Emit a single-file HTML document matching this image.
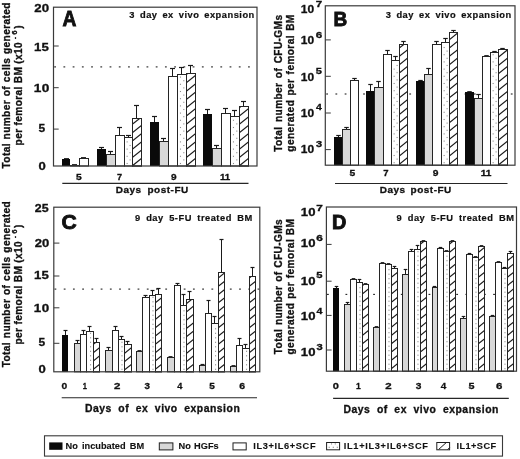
<!DOCTYPE html>
<html><head><meta charset="utf-8"><style>
html,body{margin:0;padding:0;background:#fff;}
svg{display:block;}
text{font-family:"Liberation Sans", sans-serif;fill:#111;stroke:#111;stroke-width:0.3px;}
svg{will-change:transform;filter:blur(0.25px);}
</style></head><body>
<svg width="520" height="459" viewBox="0 0 520 459">
<rect width="520" height="459" fill="#fff"/>
<g fill="#222"><rect x="54.2" y="66.35" width="1.8" height="1.1"/><rect x="63.43" y="66.35" width="1.8" height="1.1"/><rect x="72.66" y="66.35" width="1.8" height="1.1"/><rect x="81.89" y="66.35" width="1.8" height="1.1"/><rect x="91.12" y="66.35" width="1.8" height="1.1"/><rect x="100.35" y="66.35" width="1.8" height="1.1"/><rect x="109.58" y="66.35" width="1.8" height="1.1"/><rect x="118.81" y="66.35" width="1.8" height="1.1"/><rect x="128.04" y="66.35" width="1.8" height="1.1"/><rect x="137.27" y="66.35" width="1.8" height="1.1"/><rect x="146.5" y="66.35" width="1.8" height="1.1"/><rect x="155.73" y="66.35" width="1.8" height="1.1"/><rect x="164.96" y="66.35" width="1.8" height="1.1"/><rect x="174.19" y="66.35" width="1.8" height="1.1"/><rect x="183.42" y="66.35" width="1.8" height="1.1"/><rect x="192.65" y="66.35" width="1.8" height="1.1"/><rect x="201.88" y="66.35" width="1.8" height="1.1"/><rect x="211.11" y="66.35" width="1.8" height="1.1"/><rect x="220.34" y="66.35" width="1.8" height="1.1"/><rect x="229.57" y="66.35" width="1.8" height="1.1"/><rect x="238.8" y="66.35" width="1.8" height="1.1"/><rect x="248.03" y="66.35" width="1.8" height="1.1"/></g>
<line x1="64" y1="158.7" x2="69" y2="158.7" stroke="#1a1a1a" stroke-width="1.2"/>
<rect x="62" y="159" width="8" height="7" fill="#0a0a0a"/>
<line x1="72" y1="164.7" x2="77" y2="164.7" stroke="#1a1a1a" stroke-width="1.2"/>
<rect x="70.5" y="165.5" width="9" height="0.5" fill="#d8d8d8" stroke="#242424" stroke-width="1"/>
<line x1="81" y1="157.7" x2="86" y2="157.7" stroke="#1a1a1a" stroke-width="1.2"/>
<rect x="79.5" y="158.5" width="9" height="7.5" fill="#fff" stroke="#242424" stroke-width="1"/>
<line x1="101.5" y1="149" x2="101.5" y2="147.5" stroke="#1a1a1a" stroke-width="1"/>
<line x1="99" y1="147.5" x2="104" y2="147.5" stroke="#1a1a1a" stroke-width="1.2"/>
<rect x="97" y="149" width="9" height="17" fill="#0a0a0a"/>
<line x1="110.5" y1="154" x2="110.5" y2="151.5" stroke="#1a1a1a" stroke-width="1"/>
<line x1="108" y1="151.5" x2="113" y2="151.5" stroke="#1a1a1a" stroke-width="1.2"/>
<rect x="106.5" y="154.5" width="9" height="11.5" fill="#d8d8d8" stroke="#242424" stroke-width="1"/>
<line x1="119.5" y1="135" x2="119.5" y2="127.5" stroke="#1a1a1a" stroke-width="1"/>
<line x1="117" y1="127.5" x2="122" y2="127.5" stroke="#1a1a1a" stroke-width="1.2"/>
<rect x="115.5" y="135.5" width="9" height="30.5" fill="#fff" stroke="#242424" stroke-width="1"/>
<line x1="128.5" y1="137" x2="128.5" y2="135.5" stroke="#1a1a1a" stroke-width="1"/>
<line x1="126" y1="135.5" x2="131" y2="135.5" stroke="#1a1a1a" stroke-width="1.2"/>
<rect x="124.5" y="137.5" width="8" height="28.5" fill="#fff" stroke="#242424" stroke-width="1"/>
<g fill="#8c8c8c"><rect x="126.59" y="162.95" width="1.1" height="1.1"/><rect x="129.55" y="159.35" width="1.1" height="1.1"/><rect x="126.59" y="155.75" width="1.1" height="1.1"/><rect x="129.55" y="152.15" width="1.1" height="1.1"/><rect x="126.59" y="148.55" width="1.1" height="1.1"/><rect x="129.55" y="144.95" width="1.1" height="1.1"/><rect x="126.59" y="141.35" width="1.1" height="1.1"/></g>
<line x1="136.5" y1="118" x2="136.5" y2="105.5" stroke="#1a1a1a" stroke-width="1"/>
<line x1="134" y1="105.5" x2="139" y2="105.5" stroke="#1a1a1a" stroke-width="1.2"/>
<rect x="132.5" y="118.5" width="9" height="47.5" fill="#fff" stroke="#242424" stroke-width="1"/>
<clipPath id="c23"><rect x="132.5" y="118.5" width="9" height="47.5"/></clipPath>
<g clip-path="url(#c23)" stroke="#1a1a1a" stroke-width="1.2"><line x1="131.5" y1="174.8" x2="142.5" y2="166"/><line x1="131.5" y1="166.5" x2="142.5" y2="157.7"/><line x1="131.5" y1="158.2" x2="142.5" y2="149.4"/><line x1="131.5" y1="149.9" x2="142.5" y2="141.1"/><line x1="131.5" y1="141.6" x2="142.5" y2="132.8"/><line x1="131.5" y1="133.3" x2="142.5" y2="124.5"/><line x1="131.5" y1="125" x2="142.5" y2="116.2"/></g>
<rect x="132.5" y="118.5" width="9" height="47.5" fill="none" stroke="#242424" stroke-width="1"/>
<line x1="154.5" y1="122" x2="154.5" y2="116.5" stroke="#1a1a1a" stroke-width="1"/>
<line x1="152" y1="116.5" x2="157" y2="116.5" stroke="#1a1a1a" stroke-width="1.2"/>
<rect x="150" y="122" width="9" height="44" fill="#0a0a0a"/>
<line x1="163.5" y1="141" x2="163.5" y2="138.5" stroke="#1a1a1a" stroke-width="1"/>
<line x1="161" y1="138.5" x2="166" y2="138.5" stroke="#1a1a1a" stroke-width="1.2"/>
<rect x="159.5" y="141.5" width="9" height="24.5" fill="#d8d8d8" stroke="#242424" stroke-width="1"/>
<line x1="172.5" y1="76" x2="172.5" y2="68.5" stroke="#1a1a1a" stroke-width="1"/>
<line x1="170" y1="68.5" x2="175" y2="68.5" stroke="#1a1a1a" stroke-width="1.2"/>
<rect x="168.5" y="76.5" width="9" height="89.5" fill="#fff" stroke="#242424" stroke-width="1"/>
<line x1="181.5" y1="74" x2="181.5" y2="67.5" stroke="#1a1a1a" stroke-width="1"/>
<line x1="179" y1="67.5" x2="184" y2="67.5" stroke="#1a1a1a" stroke-width="1.2"/>
<rect x="177.5" y="74.5" width="9" height="91.5" fill="#fff" stroke="#242424" stroke-width="1"/>
<g fill="#8c8c8c"><rect x="179.92" y="162.95" width="1.1" height="1.1"/><rect x="183.25" y="159.35" width="1.1" height="1.1"/><rect x="179.92" y="155.75" width="1.1" height="1.1"/><rect x="183.25" y="152.15" width="1.1" height="1.1"/><rect x="179.92" y="148.55" width="1.1" height="1.1"/><rect x="183.25" y="144.95" width="1.1" height="1.1"/><rect x="179.92" y="141.35" width="1.1" height="1.1"/><rect x="183.25" y="137.75" width="1.1" height="1.1"/><rect x="179.92" y="134.15" width="1.1" height="1.1"/><rect x="183.25" y="130.55" width="1.1" height="1.1"/><rect x="179.92" y="126.95" width="1.1" height="1.1"/><rect x="183.25" y="123.35" width="1.1" height="1.1"/><rect x="179.92" y="119.75" width="1.1" height="1.1"/><rect x="183.25" y="116.15" width="1.1" height="1.1"/><rect x="179.92" y="112.55" width="1.1" height="1.1"/><rect x="183.25" y="108.95" width="1.1" height="1.1"/><rect x="179.92" y="105.35" width="1.1" height="1.1"/><rect x="183.25" y="101.75" width="1.1" height="1.1"/><rect x="179.92" y="98.15" width="1.1" height="1.1"/><rect x="183.25" y="94.55" width="1.1" height="1.1"/><rect x="179.92" y="90.95" width="1.1" height="1.1"/><rect x="183.25" y="87.35" width="1.1" height="1.1"/><rect x="179.92" y="83.75" width="1.1" height="1.1"/><rect x="183.25" y="80.15" width="1.1" height="1.1"/><rect x="179.92" y="76.55" width="1.1" height="1.1"/></g>
<line x1="190.5" y1="73" x2="190.5" y2="65.5" stroke="#1a1a1a" stroke-width="1"/>
<line x1="188" y1="65.5" x2="193" y2="65.5" stroke="#1a1a1a" stroke-width="1.2"/>
<rect x="186.5" y="73.5" width="9" height="92.5" fill="#fff" stroke="#242424" stroke-width="1"/>
<clipPath id="c42"><rect x="186.5" y="73.5" width="9" height="92.5"/></clipPath>
<g clip-path="url(#c42)" stroke="#1a1a1a" stroke-width="1.2"><line x1="185.5" y1="174.8" x2="196.5" y2="166"/><line x1="185.5" y1="166.5" x2="196.5" y2="157.7"/><line x1="185.5" y1="158.2" x2="196.5" y2="149.4"/><line x1="185.5" y1="149.9" x2="196.5" y2="141.1"/><line x1="185.5" y1="141.6" x2="196.5" y2="132.8"/><line x1="185.5" y1="133.3" x2="196.5" y2="124.5"/><line x1="185.5" y1="125" x2="196.5" y2="116.2"/><line x1="185.5" y1="116.7" x2="196.5" y2="107.9"/><line x1="185.5" y1="108.4" x2="196.5" y2="99.6"/><line x1="185.5" y1="100.1" x2="196.5" y2="91.3"/><line x1="185.5" y1="91.8" x2="196.5" y2="83"/><line x1="185.5" y1="83.5" x2="196.5" y2="74.7"/><line x1="185.5" y1="75.2" x2="196.5" y2="66.4"/></g>
<rect x="186.5" y="73.5" width="9" height="92.5" fill="none" stroke="#242424" stroke-width="1"/>
<line x1="207.5" y1="114" x2="207.5" y2="109.5" stroke="#1a1a1a" stroke-width="1"/>
<line x1="205" y1="109.5" x2="210" y2="109.5" stroke="#1a1a1a" stroke-width="1.2"/>
<rect x="203" y="114" width="9" height="52" fill="#0a0a0a"/>
<line x1="216.5" y1="148" x2="216.5" y2="145.5" stroke="#1a1a1a" stroke-width="1"/>
<line x1="214" y1="145.5" x2="219" y2="145.5" stroke="#1a1a1a" stroke-width="1.2"/>
<rect x="212.5" y="148.5" width="9" height="17.5" fill="#d8d8d8" stroke="#242424" stroke-width="1"/>
<line x1="225.5" y1="113" x2="225.5" y2="108.5" stroke="#1a1a1a" stroke-width="1"/>
<line x1="223" y1="108.5" x2="228" y2="108.5" stroke="#1a1a1a" stroke-width="1.2"/>
<rect x="221.5" y="113.5" width="9" height="52.5" fill="#fff" stroke="#242424" stroke-width="1"/>
<line x1="234.5" y1="116" x2="234.5" y2="110.5" stroke="#1a1a1a" stroke-width="1"/>
<line x1="232" y1="110.5" x2="237" y2="110.5" stroke="#1a1a1a" stroke-width="1.2"/>
<rect x="230.5" y="116.5" width="9" height="49.5" fill="#fff" stroke="#242424" stroke-width="1"/>
<g fill="#8c8c8c"><rect x="232.92" y="162.95" width="1.1" height="1.1"/><rect x="236.25" y="159.35" width="1.1" height="1.1"/><rect x="232.92" y="155.75" width="1.1" height="1.1"/><rect x="236.25" y="152.15" width="1.1" height="1.1"/><rect x="232.92" y="148.55" width="1.1" height="1.1"/><rect x="236.25" y="144.95" width="1.1" height="1.1"/><rect x="232.92" y="141.35" width="1.1" height="1.1"/><rect x="236.25" y="137.75" width="1.1" height="1.1"/><rect x="232.92" y="134.15" width="1.1" height="1.1"/><rect x="236.25" y="130.55" width="1.1" height="1.1"/><rect x="232.92" y="126.95" width="1.1" height="1.1"/><rect x="236.25" y="123.35" width="1.1" height="1.1"/><rect x="232.92" y="119.75" width="1.1" height="1.1"/></g>
<line x1="243.5" y1="106" x2="243.5" y2="101.5" stroke="#1a1a1a" stroke-width="1"/>
<line x1="241" y1="101.5" x2="246" y2="101.5" stroke="#1a1a1a" stroke-width="1.2"/>
<rect x="239.5" y="106.5" width="9" height="59.5" fill="#fff" stroke="#242424" stroke-width="1"/>
<clipPath id="c61"><rect x="239.5" y="106.5" width="9" height="59.5"/></clipPath>
<g clip-path="url(#c61)" stroke="#1a1a1a" stroke-width="1.2"><line x1="238.5" y1="174.8" x2="249.5" y2="166"/><line x1="238.5" y1="166.5" x2="249.5" y2="157.7"/><line x1="238.5" y1="158.2" x2="249.5" y2="149.4"/><line x1="238.5" y1="149.9" x2="249.5" y2="141.1"/><line x1="238.5" y1="141.6" x2="249.5" y2="132.8"/><line x1="238.5" y1="133.3" x2="249.5" y2="124.5"/><line x1="238.5" y1="125" x2="249.5" y2="116.2"/><line x1="238.5" y1="116.7" x2="249.5" y2="107.9"/><line x1="238.5" y1="108.4" x2="249.5" y2="99.6"/></g>
<rect x="239.5" y="106.5" width="9" height="59.5" fill="none" stroke="#242424" stroke-width="1"/>
<rect x="53.5" y="7.2" width="203.5" height="158.8" fill="none" stroke="#3a3a3a" stroke-width="1.2"/>
<line x1="53.5" y1="129.1" x2="58.7" y2="129.1" stroke="#3a3a3a" stroke-width="1"/>
<line x1="53.5" y1="87.7" x2="58.7" y2="87.7" stroke="#3a3a3a" stroke-width="1"/>
<line x1="53.5" y1="46" x2="58.7" y2="46" stroke="#3a3a3a" stroke-width="1"/>
<line x1="62.3" y1="183.4" x2="248.5" y2="183.4" stroke="#262626" stroke-width="1.1"/>
<g fill="#222"><rect x="326.2" y="93.45" width="1.8" height="1.1"/><rect x="335.43" y="93.45" width="1.8" height="1.1"/><rect x="344.66" y="93.45" width="1.8" height="1.1"/><rect x="353.89" y="93.45" width="1.8" height="1.1"/><rect x="363.12" y="93.45" width="1.8" height="1.1"/><rect x="372.35" y="93.45" width="1.8" height="1.1"/><rect x="381.58" y="93.45" width="1.8" height="1.1"/><rect x="390.81" y="93.45" width="1.8" height="1.1"/><rect x="400.04" y="93.45" width="1.8" height="1.1"/><rect x="409.27" y="93.45" width="1.8" height="1.1"/><rect x="418.5" y="93.45" width="1.8" height="1.1"/><rect x="427.73" y="93.45" width="1.8" height="1.1"/><rect x="436.96" y="93.45" width="1.8" height="1.1"/><rect x="446.19" y="93.45" width="1.8" height="1.1"/><rect x="455.42" y="93.45" width="1.8" height="1.1"/><rect x="464.65" y="93.45" width="1.8" height="1.1"/><rect x="473.88" y="93.45" width="1.8" height="1.1"/><rect x="483.11" y="93.45" width="1.8" height="1.1"/><rect x="492.34" y="93.45" width="1.8" height="1.1"/><rect x="501.57" y="93.45" width="1.8" height="1.1"/><rect x="510.8" y="93.45" width="1.8" height="1.1"/></g>
<line x1="338.5" y1="137" x2="338.5" y2="135.5" stroke="#1a1a1a" stroke-width="1"/>
<line x1="336.25" y1="135.5" x2="340.75" y2="135.5" stroke="#1a1a1a" stroke-width="1.2"/>
<rect x="334" y="137" width="8" height="28.2" fill="#0a0a0a"/>
<line x1="346.5" y1="129" x2="346.5" y2="127.5" stroke="#1a1a1a" stroke-width="1"/>
<line x1="344.25" y1="127.5" x2="348.75" y2="127.5" stroke="#1a1a1a" stroke-width="1.2"/>
<rect x="342.5" y="129.5" width="8" height="35.7" fill="#d8d8d8" stroke="#242424" stroke-width="1"/>
<line x1="354.5" y1="80" x2="354.5" y2="78.5" stroke="#1a1a1a" stroke-width="1"/>
<line x1="352.25" y1="78.5" x2="356.75" y2="78.5" stroke="#1a1a1a" stroke-width="1.2"/>
<rect x="350.5" y="80.5" width="8" height="84.7" fill="#fff" stroke="#242424" stroke-width="1"/>
<line x1="370.5" y1="91" x2="370.5" y2="84.5" stroke="#1a1a1a" stroke-width="1"/>
<line x1="368.25" y1="84.5" x2="372.75" y2="84.5" stroke="#1a1a1a" stroke-width="1.2"/>
<rect x="366" y="91" width="8" height="74.2" fill="#0a0a0a"/>
<line x1="378.5" y1="87" x2="378.5" y2="81.5" stroke="#1a1a1a" stroke-width="1"/>
<line x1="376.25" y1="81.5" x2="380.75" y2="81.5" stroke="#1a1a1a" stroke-width="1.2"/>
<rect x="374.5" y="87.5" width="9" height="77.7" fill="#d8d8d8" stroke="#242424" stroke-width="1"/>
<line x1="387.5" y1="54" x2="387.5" y2="50.5" stroke="#1a1a1a" stroke-width="1"/>
<line x1="385.25" y1="50.5" x2="389.75" y2="50.5" stroke="#1a1a1a" stroke-width="1.2"/>
<rect x="383.5" y="54.5" width="8" height="110.7" fill="#fff" stroke="#242424" stroke-width="1"/>
<line x1="395.5" y1="60" x2="395.5" y2="56.5" stroke="#1a1a1a" stroke-width="1"/>
<line x1="393.25" y1="56.5" x2="397.75" y2="56.5" stroke="#1a1a1a" stroke-width="1.2"/>
<rect x="391.5" y="60.5" width="8" height="104.7" fill="#fff" stroke="#242424" stroke-width="1"/>
<g fill="#8c8c8c"><rect x="393.59" y="162.15" width="1.1" height="1.1"/><rect x="396.55" y="158.55" width="1.1" height="1.1"/><rect x="393.59" y="154.95" width="1.1" height="1.1"/><rect x="396.55" y="151.35" width="1.1" height="1.1"/><rect x="393.59" y="147.75" width="1.1" height="1.1"/><rect x="396.55" y="144.15" width="1.1" height="1.1"/><rect x="393.59" y="140.55" width="1.1" height="1.1"/><rect x="396.55" y="136.95" width="1.1" height="1.1"/><rect x="393.59" y="133.35" width="1.1" height="1.1"/><rect x="396.55" y="129.75" width="1.1" height="1.1"/><rect x="393.59" y="126.15" width="1.1" height="1.1"/><rect x="396.55" y="122.55" width="1.1" height="1.1"/><rect x="393.59" y="118.95" width="1.1" height="1.1"/><rect x="396.55" y="115.35" width="1.1" height="1.1"/><rect x="393.59" y="111.75" width="1.1" height="1.1"/><rect x="396.55" y="108.15" width="1.1" height="1.1"/><rect x="393.59" y="104.55" width="1.1" height="1.1"/><rect x="396.55" y="100.95" width="1.1" height="1.1"/><rect x="393.59" y="97.35" width="1.1" height="1.1"/><rect x="396.55" y="93.75" width="1.1" height="1.1"/><rect x="393.59" y="90.15" width="1.1" height="1.1"/><rect x="396.55" y="86.55" width="1.1" height="1.1"/><rect x="393.59" y="82.95" width="1.1" height="1.1"/><rect x="396.55" y="79.35" width="1.1" height="1.1"/><rect x="393.59" y="75.75" width="1.1" height="1.1"/><rect x="396.55" y="72.15" width="1.1" height="1.1"/><rect x="393.59" y="68.55" width="1.1" height="1.1"/><rect x="396.55" y="64.95" width="1.1" height="1.1"/></g>
<line x1="403.5" y1="44" x2="403.5" y2="41.5" stroke="#1a1a1a" stroke-width="1"/>
<line x1="401.25" y1="41.5" x2="405.75" y2="41.5" stroke="#1a1a1a" stroke-width="1.2"/>
<rect x="399.5" y="44.5" width="8" height="120.7" fill="#fff" stroke="#242424" stroke-width="1"/>
<clipPath id="c95"><rect x="399.5" y="44.5" width="8" height="120.7"/></clipPath>
<g clip-path="url(#c95)" stroke="#1a1a1a" stroke-width="1.2"><line x1="398.5" y1="173.2" x2="408.5" y2="165.2"/><line x1="398.5" y1="164.9" x2="408.5" y2="156.9"/><line x1="398.5" y1="156.6" x2="408.5" y2="148.6"/><line x1="398.5" y1="148.3" x2="408.5" y2="140.3"/><line x1="398.5" y1="140" x2="408.5" y2="132"/><line x1="398.5" y1="131.7" x2="408.5" y2="123.7"/><line x1="398.5" y1="123.4" x2="408.5" y2="115.4"/><line x1="398.5" y1="115.1" x2="408.5" y2="107.1"/><line x1="398.5" y1="106.8" x2="408.5" y2="98.8"/><line x1="398.5" y1="98.5" x2="408.5" y2="90.5"/><line x1="398.5" y1="90.2" x2="408.5" y2="82.2"/><line x1="398.5" y1="81.9" x2="408.5" y2="73.9"/><line x1="398.5" y1="73.6" x2="408.5" y2="65.6"/><line x1="398.5" y1="65.3" x2="408.5" y2="57.3"/><line x1="398.5" y1="57" x2="408.5" y2="49"/><line x1="398.5" y1="48.7" x2="408.5" y2="40.7"/></g>
<rect x="399.5" y="44.5" width="8" height="120.7" fill="none" stroke="#242424" stroke-width="1"/>
<line x1="420.5" y1="81" x2="420.5" y2="80.5" stroke="#1a1a1a" stroke-width="1"/>
<line x1="418.25" y1="80.5" x2="422.75" y2="80.5" stroke="#1a1a1a" stroke-width="1.2"/>
<rect x="416" y="81" width="8" height="84.2" fill="#0a0a0a"/>
<line x1="428.5" y1="74" x2="428.5" y2="68.5" stroke="#1a1a1a" stroke-width="1"/>
<line x1="426.25" y1="68.5" x2="430.75" y2="68.5" stroke="#1a1a1a" stroke-width="1.2"/>
<rect x="424.5" y="74.5" width="8" height="90.7" fill="#d8d8d8" stroke="#242424" stroke-width="1"/>
<line x1="436.5" y1="44" x2="436.5" y2="41.5" stroke="#1a1a1a" stroke-width="1"/>
<line x1="434.25" y1="41.5" x2="438.75" y2="41.5" stroke="#1a1a1a" stroke-width="1.2"/>
<rect x="432.5" y="44.5" width="9" height="120.7" fill="#fff" stroke="#242424" stroke-width="1"/>
<line x1="445.5" y1="42" x2="445.5" y2="38.5" stroke="#1a1a1a" stroke-width="1"/>
<line x1="443.25" y1="38.5" x2="447.75" y2="38.5" stroke="#1a1a1a" stroke-width="1.2"/>
<rect x="441.5" y="42.5" width="8" height="122.7" fill="#fff" stroke="#242424" stroke-width="1"/>
<g fill="#8c8c8c"><rect x="443.59" y="162.15" width="1.1" height="1.1"/><rect x="446.55" y="158.55" width="1.1" height="1.1"/><rect x="443.59" y="154.95" width="1.1" height="1.1"/><rect x="446.55" y="151.35" width="1.1" height="1.1"/><rect x="443.59" y="147.75" width="1.1" height="1.1"/><rect x="446.55" y="144.15" width="1.1" height="1.1"/><rect x="443.59" y="140.55" width="1.1" height="1.1"/><rect x="446.55" y="136.95" width="1.1" height="1.1"/><rect x="443.59" y="133.35" width="1.1" height="1.1"/><rect x="446.55" y="129.75" width="1.1" height="1.1"/><rect x="443.59" y="126.15" width="1.1" height="1.1"/><rect x="446.55" y="122.55" width="1.1" height="1.1"/><rect x="443.59" y="118.95" width="1.1" height="1.1"/><rect x="446.55" y="115.35" width="1.1" height="1.1"/><rect x="443.59" y="111.75" width="1.1" height="1.1"/><rect x="446.55" y="108.15" width="1.1" height="1.1"/><rect x="443.59" y="104.55" width="1.1" height="1.1"/><rect x="446.55" y="100.95" width="1.1" height="1.1"/><rect x="443.59" y="97.35" width="1.1" height="1.1"/><rect x="446.55" y="93.75" width="1.1" height="1.1"/><rect x="443.59" y="90.15" width="1.1" height="1.1"/><rect x="446.55" y="86.55" width="1.1" height="1.1"/><rect x="443.59" y="82.95" width="1.1" height="1.1"/><rect x="446.55" y="79.35" width="1.1" height="1.1"/><rect x="443.59" y="75.75" width="1.1" height="1.1"/><rect x="446.55" y="72.15" width="1.1" height="1.1"/><rect x="443.59" y="68.55" width="1.1" height="1.1"/><rect x="446.55" y="64.95" width="1.1" height="1.1"/><rect x="443.59" y="61.35" width="1.1" height="1.1"/><rect x="446.55" y="57.75" width="1.1" height="1.1"/><rect x="443.59" y="54.15" width="1.1" height="1.1"/><rect x="446.55" y="50.55" width="1.1" height="1.1"/><rect x="443.59" y="46.95" width="1.1" height="1.1"/></g>
<line x1="453.5" y1="32" x2="453.5" y2="30.5" stroke="#1a1a1a" stroke-width="1"/>
<line x1="451.25" y1="30.5" x2="455.75" y2="30.5" stroke="#1a1a1a" stroke-width="1.2"/>
<rect x="449.5" y="32.5" width="8" height="132.7" fill="#fff" stroke="#242424" stroke-width="1"/>
<clipPath id="c114"><rect x="449.5" y="32.5" width="8" height="132.7"/></clipPath>
<g clip-path="url(#c114)" stroke="#1a1a1a" stroke-width="1.2"><line x1="448.5" y1="173.2" x2="458.5" y2="165.2"/><line x1="448.5" y1="164.9" x2="458.5" y2="156.9"/><line x1="448.5" y1="156.6" x2="458.5" y2="148.6"/><line x1="448.5" y1="148.3" x2="458.5" y2="140.3"/><line x1="448.5" y1="140" x2="458.5" y2="132"/><line x1="448.5" y1="131.7" x2="458.5" y2="123.7"/><line x1="448.5" y1="123.4" x2="458.5" y2="115.4"/><line x1="448.5" y1="115.1" x2="458.5" y2="107.1"/><line x1="448.5" y1="106.8" x2="458.5" y2="98.8"/><line x1="448.5" y1="98.5" x2="458.5" y2="90.5"/><line x1="448.5" y1="90.2" x2="458.5" y2="82.2"/><line x1="448.5" y1="81.9" x2="458.5" y2="73.9"/><line x1="448.5" y1="73.6" x2="458.5" y2="65.6"/><line x1="448.5" y1="65.3" x2="458.5" y2="57.3"/><line x1="448.5" y1="57" x2="458.5" y2="49"/><line x1="448.5" y1="48.7" x2="458.5" y2="40.7"/><line x1="448.5" y1="40.4" x2="458.5" y2="32.4"/><line x1="448.5" y1="32.1" x2="458.5" y2="24.1"/></g>
<rect x="449.5" y="32.5" width="8" height="132.7" fill="none" stroke="#242424" stroke-width="1"/>
<line x1="467.25" y1="91.7" x2="471.75" y2="91.7" stroke="#1a1a1a" stroke-width="1.2"/>
<rect x="465" y="92" width="9" height="73.2" fill="#0a0a0a"/>
<line x1="478.5" y1="98" x2="478.5" y2="94.5" stroke="#1a1a1a" stroke-width="1"/>
<line x1="476.25" y1="94.5" x2="480.75" y2="94.5" stroke="#1a1a1a" stroke-width="1.2"/>
<rect x="474.5" y="98.5" width="8" height="66.7" fill="#d8d8d8" stroke="#242424" stroke-width="1"/>
<line x1="484.25" y1="55.7" x2="488.75" y2="55.7" stroke="#1a1a1a" stroke-width="1.2"/>
<rect x="482.5" y="56.5" width="8" height="108.7" fill="#fff" stroke="#242424" stroke-width="1"/>
<line x1="494.5" y1="52" x2="494.5" y2="51.5" stroke="#1a1a1a" stroke-width="1"/>
<line x1="492.25" y1="51.5" x2="496.75" y2="51.5" stroke="#1a1a1a" stroke-width="1.2"/>
<rect x="490.5" y="52.5" width="8" height="112.7" fill="#fff" stroke="#242424" stroke-width="1"/>
<g fill="#8c8c8c"><rect x="492.59" y="162.15" width="1.1" height="1.1"/><rect x="495.55" y="158.55" width="1.1" height="1.1"/><rect x="492.59" y="154.95" width="1.1" height="1.1"/><rect x="495.55" y="151.35" width="1.1" height="1.1"/><rect x="492.59" y="147.75" width="1.1" height="1.1"/><rect x="495.55" y="144.15" width="1.1" height="1.1"/><rect x="492.59" y="140.55" width="1.1" height="1.1"/><rect x="495.55" y="136.95" width="1.1" height="1.1"/><rect x="492.59" y="133.35" width="1.1" height="1.1"/><rect x="495.55" y="129.75" width="1.1" height="1.1"/><rect x="492.59" y="126.15" width="1.1" height="1.1"/><rect x="495.55" y="122.55" width="1.1" height="1.1"/><rect x="492.59" y="118.95" width="1.1" height="1.1"/><rect x="495.55" y="115.35" width="1.1" height="1.1"/><rect x="492.59" y="111.75" width="1.1" height="1.1"/><rect x="495.55" y="108.15" width="1.1" height="1.1"/><rect x="492.59" y="104.55" width="1.1" height="1.1"/><rect x="495.55" y="100.95" width="1.1" height="1.1"/><rect x="492.59" y="97.35" width="1.1" height="1.1"/><rect x="495.55" y="93.75" width="1.1" height="1.1"/><rect x="492.59" y="90.15" width="1.1" height="1.1"/><rect x="495.55" y="86.55" width="1.1" height="1.1"/><rect x="492.59" y="82.95" width="1.1" height="1.1"/><rect x="495.55" y="79.35" width="1.1" height="1.1"/><rect x="492.59" y="75.75" width="1.1" height="1.1"/><rect x="495.55" y="72.15" width="1.1" height="1.1"/><rect x="492.59" y="68.55" width="1.1" height="1.1"/><rect x="495.55" y="64.95" width="1.1" height="1.1"/><rect x="492.59" y="61.35" width="1.1" height="1.1"/><rect x="495.55" y="57.75" width="1.1" height="1.1"/><rect x="492.59" y="54.15" width="1.1" height="1.1"/></g>
<line x1="502.5" y1="49" x2="502.5" y2="48.5" stroke="#1a1a1a" stroke-width="1"/>
<line x1="500.25" y1="48.5" x2="504.75" y2="48.5" stroke="#1a1a1a" stroke-width="1.2"/>
<rect x="498.5" y="49.5" width="9" height="115.7" fill="#fff" stroke="#242424" stroke-width="1"/>
<clipPath id="c131"><rect x="498.5" y="49.5" width="9" height="115.7"/></clipPath>
<g clip-path="url(#c131)" stroke="#1a1a1a" stroke-width="1.2"><line x1="497.5" y1="174" x2="508.5" y2="165.2"/><line x1="497.5" y1="165.7" x2="508.5" y2="156.9"/><line x1="497.5" y1="157.4" x2="508.5" y2="148.6"/><line x1="497.5" y1="149.1" x2="508.5" y2="140.3"/><line x1="497.5" y1="140.8" x2="508.5" y2="132"/><line x1="497.5" y1="132.5" x2="508.5" y2="123.7"/><line x1="497.5" y1="124.2" x2="508.5" y2="115.4"/><line x1="497.5" y1="115.9" x2="508.5" y2="107.1"/><line x1="497.5" y1="107.6" x2="508.5" y2="98.8"/><line x1="497.5" y1="99.3" x2="508.5" y2="90.5"/><line x1="497.5" y1="91" x2="508.5" y2="82.2"/><line x1="497.5" y1="82.7" x2="508.5" y2="73.9"/><line x1="497.5" y1="74.4" x2="508.5" y2="65.6"/><line x1="497.5" y1="66.1" x2="508.5" y2="57.3"/><line x1="497.5" y1="57.8" x2="508.5" y2="49"/><line x1="497.5" y1="49.5" x2="508.5" y2="40.7"/></g>
<rect x="498.5" y="49.5" width="9" height="115.7" fill="none" stroke="#242424" stroke-width="1"/>
<rect x="325.3" y="5.8" width="189.7" height="159.4" fill="none" stroke="#3a3a3a" stroke-width="1.2"/>
<line x1="325.3" y1="39.9" x2="330.8" y2="39.9" stroke="#3a3a3a" stroke-width="1"/>
<line x1="325.3" y1="76.3" x2="330.8" y2="76.3" stroke="#3a3a3a" stroke-width="1"/>
<line x1="325.3" y1="113" x2="330.8" y2="113" stroke="#3a3a3a" stroke-width="1"/>
<line x1="325.3" y1="149.6" x2="330.8" y2="149.6" stroke="#3a3a3a" stroke-width="1"/>
<line x1="335" y1="183.5" x2="507.5" y2="183.5" stroke="#262626" stroke-width="1.1"/>
<g fill="#222"><rect x="54.5" y="288.55" width="1.8" height="1.1"/><rect x="63.73" y="288.55" width="1.8" height="1.1"/><rect x="72.96" y="288.55" width="1.8" height="1.1"/><rect x="82.19" y="288.55" width="1.8" height="1.1"/><rect x="91.42" y="288.55" width="1.8" height="1.1"/><rect x="100.65" y="288.55" width="1.8" height="1.1"/><rect x="109.88" y="288.55" width="1.8" height="1.1"/><rect x="119.11" y="288.55" width="1.8" height="1.1"/><rect x="128.34" y="288.55" width="1.8" height="1.1"/><rect x="137.57" y="288.55" width="1.8" height="1.1"/><rect x="146.8" y="288.55" width="1.8" height="1.1"/><rect x="156.03" y="288.55" width="1.8" height="1.1"/><rect x="165.26" y="288.55" width="1.8" height="1.1"/><rect x="174.49" y="288.55" width="1.8" height="1.1"/><rect x="183.72" y="288.55" width="1.8" height="1.1"/><rect x="192.95" y="288.55" width="1.8" height="1.1"/><rect x="202.18" y="288.55" width="1.8" height="1.1"/><rect x="211.41" y="288.55" width="1.8" height="1.1"/><rect x="220.64" y="288.55" width="1.8" height="1.1"/><rect x="229.87" y="288.55" width="1.8" height="1.1"/><rect x="239.1" y="288.55" width="1.8" height="1.1"/><rect x="248.33" y="288.55" width="1.8" height="1.1"/><rect x="257.56" y="288.55" width="1.8" height="1.1"/></g>
<line x1="65.5" y1="335" x2="65.5" y2="330.5" stroke="#1a1a1a" stroke-width="1"/>
<line x1="63.5" y1="330.5" x2="67.5" y2="330.5" stroke="#1a1a1a" stroke-width="1.2"/>
<rect x="62" y="335" width="6" height="36.8" fill="#0a0a0a"/>
<line x1="77.5" y1="343" x2="77.5" y2="340.5" stroke="#1a1a1a" stroke-width="1"/>
<line x1="75.5" y1="340.5" x2="79.5" y2="340.5" stroke="#1a1a1a" stroke-width="1.2"/>
<rect x="74.5" y="343.5" width="6" height="28.3" fill="#d8d8d8" stroke="#242424" stroke-width="1"/>
<line x1="83.5" y1="334" x2="83.5" y2="330.5" stroke="#1a1a1a" stroke-width="1"/>
<line x1="81.5" y1="330.5" x2="85.5" y2="330.5" stroke="#1a1a1a" stroke-width="1.2"/>
<rect x="80.5" y="334.5" width="6" height="37.3" fill="#fff" stroke="#242424" stroke-width="1"/>
<line x1="89.5" y1="331" x2="89.5" y2="326.5" stroke="#1a1a1a" stroke-width="1"/>
<line x1="87.5" y1="326.5" x2="91.5" y2="326.5" stroke="#1a1a1a" stroke-width="1.2"/>
<rect x="86.5" y="331.5" width="7" height="40.3" fill="#fff" stroke="#242424" stroke-width="1"/>
<g fill="#8c8c8c"><rect x="90.01" y="368.75" width="1.1" height="1.1"/><rect x="90.01" y="364.25" width="1.1" height="1.1"/><rect x="90.01" y="359.75" width="1.1" height="1.1"/><rect x="90.01" y="355.25" width="1.1" height="1.1"/><rect x="90.01" y="350.75" width="1.1" height="1.1"/><rect x="90.01" y="346.25" width="1.1" height="1.1"/><rect x="90.01" y="341.75" width="1.1" height="1.1"/><rect x="90.01" y="337.25" width="1.1" height="1.1"/><rect x="90.01" y="332.75" width="1.1" height="1.1"/></g>
<line x1="96.5" y1="342" x2="96.5" y2="338.5" stroke="#1a1a1a" stroke-width="1"/>
<line x1="94.5" y1="338.5" x2="98.5" y2="338.5" stroke="#1a1a1a" stroke-width="1.2"/>
<rect x="93.5" y="342.5" width="6" height="29.3" fill="#fff" stroke="#242424" stroke-width="1"/>
<clipPath id="c157"><rect x="93.5" y="342.5" width="6" height="29.3"/></clipPath>
<g clip-path="url(#c157)" stroke="#1a1a1a" stroke-width="1.2"><line x1="92.5" y1="378.2" x2="100.5" y2="371.8"/><line x1="92.5" y1="369.9" x2="100.5" y2="363.5"/><line x1="92.5" y1="361.6" x2="100.5" y2="355.2"/><line x1="92.5" y1="353.3" x2="100.5" y2="346.9"/><line x1="92.5" y1="345" x2="100.5" y2="338.6"/></g>
<rect x="93.5" y="342.5" width="6" height="29.3" fill="none" stroke="#242424" stroke-width="1"/>
<line x1="108.5" y1="350" x2="108.5" y2="347.5" stroke="#1a1a1a" stroke-width="1"/>
<line x1="106.5" y1="347.5" x2="110.5" y2="347.5" stroke="#1a1a1a" stroke-width="1.2"/>
<rect x="105.5" y="350.5" width="7" height="21.3" fill="#d8d8d8" stroke="#242424" stroke-width="1"/>
<line x1="115.5" y1="330" x2="115.5" y2="326.5" stroke="#1a1a1a" stroke-width="1"/>
<line x1="113.5" y1="326.5" x2="117.5" y2="326.5" stroke="#1a1a1a" stroke-width="1.2"/>
<rect x="112.5" y="330.5" width="6" height="41.3" fill="#fff" stroke="#242424" stroke-width="1"/>
<line x1="121.5" y1="339" x2="121.5" y2="336.5" stroke="#1a1a1a" stroke-width="1"/>
<line x1="119.5" y1="336.5" x2="123.5" y2="336.5" stroke="#1a1a1a" stroke-width="1.2"/>
<rect x="118.5" y="339.5" width="6" height="32.3" fill="#fff" stroke="#242424" stroke-width="1"/>
<g fill="#8c8c8c"><rect x="121.43" y="368.75" width="1.1" height="1.1"/><rect x="121.43" y="364.25" width="1.1" height="1.1"/><rect x="121.43" y="359.75" width="1.1" height="1.1"/><rect x="121.43" y="355.25" width="1.1" height="1.1"/><rect x="121.43" y="350.75" width="1.1" height="1.1"/><rect x="121.43" y="346.25" width="1.1" height="1.1"/><rect x="121.43" y="341.75" width="1.1" height="1.1"/></g>
<line x1="127.5" y1="344" x2="127.5" y2="341.5" stroke="#1a1a1a" stroke-width="1"/>
<line x1="125.5" y1="341.5" x2="129.5" y2="341.5" stroke="#1a1a1a" stroke-width="1.2"/>
<rect x="124.5" y="344.5" width="7" height="27.3" fill="#fff" stroke="#242424" stroke-width="1"/>
<clipPath id="c173"><rect x="124.5" y="344.5" width="7" height="27.3"/></clipPath>
<g clip-path="url(#c173)" stroke="#1a1a1a" stroke-width="1.2"><line x1="123.5" y1="379" x2="132.5" y2="371.8"/><line x1="123.5" y1="370.7" x2="132.5" y2="363.5"/><line x1="123.5" y1="362.4" x2="132.5" y2="355.2"/><line x1="123.5" y1="354.1" x2="132.5" y2="346.9"/><line x1="123.5" y1="345.8" x2="132.5" y2="338.6"/></g>
<rect x="124.5" y="344.5" width="7" height="27.3" fill="none" stroke="#242424" stroke-width="1"/>
<line x1="137.5" y1="350.7" x2="141.5" y2="350.7" stroke="#1a1a1a" stroke-width="1.2"/>
<rect x="136.5" y="351.5" width="6" height="20.3" fill="#d8d8d8" stroke="#242424" stroke-width="1"/>
<line x1="145.5" y1="297" x2="145.5" y2="295.5" stroke="#1a1a1a" stroke-width="1"/>
<line x1="143.5" y1="295.5" x2="147.5" y2="295.5" stroke="#1a1a1a" stroke-width="1.2"/>
<rect x="142.5" y="297.5" width="7" height="74.3" fill="#fff" stroke="#242424" stroke-width="1"/>
<line x1="152.5" y1="295" x2="152.5" y2="290.5" stroke="#1a1a1a" stroke-width="1"/>
<line x1="150.5" y1="290.5" x2="154.5" y2="290.5" stroke="#1a1a1a" stroke-width="1.2"/>
<rect x="149.5" y="295.5" width="6" height="76.3" fill="#fff" stroke="#242424" stroke-width="1"/>
<g fill="#8c8c8c"><rect x="152.43" y="368.75" width="1.1" height="1.1"/><rect x="152.43" y="364.25" width="1.1" height="1.1"/><rect x="152.43" y="359.75" width="1.1" height="1.1"/><rect x="152.43" y="355.25" width="1.1" height="1.1"/><rect x="152.43" y="350.75" width="1.1" height="1.1"/><rect x="152.43" y="346.25" width="1.1" height="1.1"/><rect x="152.43" y="341.75" width="1.1" height="1.1"/><rect x="152.43" y="337.25" width="1.1" height="1.1"/><rect x="152.43" y="332.75" width="1.1" height="1.1"/><rect x="152.43" y="328.25" width="1.1" height="1.1"/><rect x="152.43" y="323.75" width="1.1" height="1.1"/><rect x="152.43" y="319.25" width="1.1" height="1.1"/><rect x="152.43" y="314.75" width="1.1" height="1.1"/><rect x="152.43" y="310.25" width="1.1" height="1.1"/><rect x="152.43" y="305.75" width="1.1" height="1.1"/><rect x="152.43" y="301.25" width="1.1" height="1.1"/><rect x="152.43" y="296.75" width="1.1" height="1.1"/></g>
<line x1="158.5" y1="294" x2="158.5" y2="288.5" stroke="#1a1a1a" stroke-width="1"/>
<line x1="156.5" y1="288.5" x2="160.5" y2="288.5" stroke="#1a1a1a" stroke-width="1.2"/>
<rect x="155.5" y="294.5" width="6" height="77.3" fill="#fff" stroke="#242424" stroke-width="1"/>
<clipPath id="c188"><rect x="155.5" y="294.5" width="6" height="77.3"/></clipPath>
<g clip-path="url(#c188)" stroke="#1a1a1a" stroke-width="1.2"><line x1="154.5" y1="378.2" x2="162.5" y2="371.8"/><line x1="154.5" y1="369.9" x2="162.5" y2="363.5"/><line x1="154.5" y1="361.6" x2="162.5" y2="355.2"/><line x1="154.5" y1="353.3" x2="162.5" y2="346.9"/><line x1="154.5" y1="345" x2="162.5" y2="338.6"/><line x1="154.5" y1="336.7" x2="162.5" y2="330.3"/><line x1="154.5" y1="328.4" x2="162.5" y2="322"/><line x1="154.5" y1="320.1" x2="162.5" y2="313.7"/><line x1="154.5" y1="311.8" x2="162.5" y2="305.4"/><line x1="154.5" y1="303.5" x2="162.5" y2="297.1"/><line x1="154.5" y1="295.2" x2="162.5" y2="288.8"/></g>
<rect x="155.5" y="294.5" width="6" height="77.3" fill="none" stroke="#242424" stroke-width="1"/>
<line x1="168.5" y1="356.7" x2="172.5" y2="356.7" stroke="#1a1a1a" stroke-width="1.2"/>
<rect x="167.5" y="357.5" width="7" height="14.3" fill="#d8d8d8" stroke="#242424" stroke-width="1"/>
<line x1="177.5" y1="285" x2="177.5" y2="283.5" stroke="#1a1a1a" stroke-width="1"/>
<line x1="175.5" y1="283.5" x2="179.5" y2="283.5" stroke="#1a1a1a" stroke-width="1.2"/>
<rect x="174.5" y="285.5" width="6" height="86.3" fill="#fff" stroke="#242424" stroke-width="1"/>
<line x1="183.5" y1="305" x2="183.5" y2="294.5" stroke="#1a1a1a" stroke-width="1"/>
<line x1="181.5" y1="294.5" x2="185.5" y2="294.5" stroke="#1a1a1a" stroke-width="1.2"/>
<rect x="180.5" y="305.5" width="6" height="66.3" fill="#fff" stroke="#242424" stroke-width="1"/>
<g fill="#8c8c8c"><rect x="183.43" y="368.75" width="1.1" height="1.1"/><rect x="183.43" y="364.25" width="1.1" height="1.1"/><rect x="183.43" y="359.75" width="1.1" height="1.1"/><rect x="183.43" y="355.25" width="1.1" height="1.1"/><rect x="183.43" y="350.75" width="1.1" height="1.1"/><rect x="183.43" y="346.25" width="1.1" height="1.1"/><rect x="183.43" y="341.75" width="1.1" height="1.1"/><rect x="183.43" y="337.25" width="1.1" height="1.1"/><rect x="183.43" y="332.75" width="1.1" height="1.1"/><rect x="183.43" y="328.25" width="1.1" height="1.1"/><rect x="183.43" y="323.75" width="1.1" height="1.1"/><rect x="183.43" y="319.25" width="1.1" height="1.1"/><rect x="183.43" y="314.75" width="1.1" height="1.1"/><rect x="183.43" y="310.25" width="1.1" height="1.1"/></g>
<line x1="189.5" y1="299" x2="189.5" y2="291.5" stroke="#1a1a1a" stroke-width="1"/>
<line x1="187.5" y1="291.5" x2="191.5" y2="291.5" stroke="#1a1a1a" stroke-width="1.2"/>
<rect x="186.5" y="299.5" width="7" height="72.3" fill="#fff" stroke="#242424" stroke-width="1"/>
<clipPath id="c203"><rect x="186.5" y="299.5" width="7" height="72.3"/></clipPath>
<g clip-path="url(#c203)" stroke="#1a1a1a" stroke-width="1.2"><line x1="185.5" y1="379" x2="194.5" y2="371.8"/><line x1="185.5" y1="370.7" x2="194.5" y2="363.5"/><line x1="185.5" y1="362.4" x2="194.5" y2="355.2"/><line x1="185.5" y1="354.1" x2="194.5" y2="346.9"/><line x1="185.5" y1="345.8" x2="194.5" y2="338.6"/><line x1="185.5" y1="337.5" x2="194.5" y2="330.3"/><line x1="185.5" y1="329.2" x2="194.5" y2="322"/><line x1="185.5" y1="320.9" x2="194.5" y2="313.7"/><line x1="185.5" y1="312.6" x2="194.5" y2="305.4"/><line x1="185.5" y1="304.3" x2="194.5" y2="297.1"/></g>
<rect x="186.5" y="299.5" width="7" height="72.3" fill="none" stroke="#242424" stroke-width="1"/>
<line x1="202.5" y1="365" x2="202.5" y2="364.5" stroke="#1a1a1a" stroke-width="1"/>
<line x1="200.5" y1="364.5" x2="204.5" y2="364.5" stroke="#1a1a1a" stroke-width="1.2"/>
<rect x="199.5" y="365.5" width="6" height="6.3" fill="#d8d8d8" stroke="#242424" stroke-width="1"/>
<line x1="208.5" y1="313" x2="208.5" y2="300.5" stroke="#1a1a1a" stroke-width="1"/>
<line x1="206.5" y1="300.5" x2="210.5" y2="300.5" stroke="#1a1a1a" stroke-width="1.2"/>
<rect x="205.5" y="313.5" width="6" height="58.3" fill="#fff" stroke="#242424" stroke-width="1"/>
<line x1="214.5" y1="323" x2="214.5" y2="316.5" stroke="#1a1a1a" stroke-width="1"/>
<line x1="212.5" y1="316.5" x2="216.5" y2="316.5" stroke="#1a1a1a" stroke-width="1.2"/>
<rect x="211.5" y="323.5" width="7" height="48.3" fill="#fff" stroke="#242424" stroke-width="1"/>
<g fill="#8c8c8c"><rect x="215.01" y="368.75" width="1.1" height="1.1"/><rect x="215.01" y="364.25" width="1.1" height="1.1"/><rect x="215.01" y="359.75" width="1.1" height="1.1"/><rect x="215.01" y="355.25" width="1.1" height="1.1"/><rect x="215.01" y="350.75" width="1.1" height="1.1"/><rect x="215.01" y="346.25" width="1.1" height="1.1"/><rect x="215.01" y="341.75" width="1.1" height="1.1"/><rect x="215.01" y="337.25" width="1.1" height="1.1"/><rect x="215.01" y="332.75" width="1.1" height="1.1"/><rect x="215.01" y="328.25" width="1.1" height="1.1"/></g>
<line x1="221.5" y1="272" x2="221.5" y2="239.5" stroke="#1a1a1a" stroke-width="1"/>
<line x1="219.5" y1="239.5" x2="223.5" y2="239.5" stroke="#1a1a1a" stroke-width="1.2"/>
<rect x="218.5" y="272.5" width="6" height="99.3" fill="#fff" stroke="#242424" stroke-width="1"/>
<clipPath id="c219"><rect x="218.5" y="272.5" width="6" height="99.3"/></clipPath>
<g clip-path="url(#c219)" stroke="#1a1a1a" stroke-width="1.2"><line x1="217.5" y1="378.2" x2="225.5" y2="371.8"/><line x1="217.5" y1="369.9" x2="225.5" y2="363.5"/><line x1="217.5" y1="361.6" x2="225.5" y2="355.2"/><line x1="217.5" y1="353.3" x2="225.5" y2="346.9"/><line x1="217.5" y1="345" x2="225.5" y2="338.6"/><line x1="217.5" y1="336.7" x2="225.5" y2="330.3"/><line x1="217.5" y1="328.4" x2="225.5" y2="322"/><line x1="217.5" y1="320.1" x2="225.5" y2="313.7"/><line x1="217.5" y1="311.8" x2="225.5" y2="305.4"/><line x1="217.5" y1="303.5" x2="225.5" y2="297.1"/><line x1="217.5" y1="295.2" x2="225.5" y2="288.8"/><line x1="217.5" y1="286.9" x2="225.5" y2="280.5"/><line x1="217.5" y1="278.6" x2="225.5" y2="272.2"/></g>
<rect x="218.5" y="272.5" width="6" height="99.3" fill="none" stroke="#242424" stroke-width="1"/>
<line x1="231.5" y1="365.7" x2="235.5" y2="365.7" stroke="#1a1a1a" stroke-width="1.2"/>
<rect x="230.5" y="366.5" width="6" height="5.3" fill="#d8d8d8" stroke="#242424" stroke-width="1"/>
<line x1="239.5" y1="345" x2="239.5" y2="338.5" stroke="#1a1a1a" stroke-width="1"/>
<line x1="237.5" y1="338.5" x2="241.5" y2="338.5" stroke="#1a1a1a" stroke-width="1.2"/>
<rect x="236.5" y="345.5" width="6" height="26.3" fill="#fff" stroke="#242424" stroke-width="1"/>
<line x1="245.5" y1="348" x2="245.5" y2="344.5" stroke="#1a1a1a" stroke-width="1"/>
<line x1="243.5" y1="344.5" x2="247.5" y2="344.5" stroke="#1a1a1a" stroke-width="1.2"/>
<rect x="242.5" y="348.5" width="7" height="23.3" fill="#fff" stroke="#242424" stroke-width="1"/>
<g fill="#8c8c8c"><rect x="246.01" y="368.75" width="1.1" height="1.1"/><rect x="246.01" y="364.25" width="1.1" height="1.1"/><rect x="246.01" y="359.75" width="1.1" height="1.1"/><rect x="246.01" y="355.25" width="1.1" height="1.1"/><rect x="246.01" y="350.75" width="1.1" height="1.1"/></g>
<line x1="252.5" y1="276" x2="252.5" y2="267.5" stroke="#1a1a1a" stroke-width="1"/>
<line x1="250.5" y1="267.5" x2="254.5" y2="267.5" stroke="#1a1a1a" stroke-width="1.2"/>
<rect x="249.5" y="276.5" width="6" height="95.3" fill="#fff" stroke="#242424" stroke-width="1"/>
<clipPath id="c234"><rect x="249.5" y="276.5" width="6" height="95.3"/></clipPath>
<g clip-path="url(#c234)" stroke="#1a1a1a" stroke-width="1.2"><line x1="248.5" y1="378.2" x2="256.5" y2="371.8"/><line x1="248.5" y1="369.9" x2="256.5" y2="363.5"/><line x1="248.5" y1="361.6" x2="256.5" y2="355.2"/><line x1="248.5" y1="353.3" x2="256.5" y2="346.9"/><line x1="248.5" y1="345" x2="256.5" y2="338.6"/><line x1="248.5" y1="336.7" x2="256.5" y2="330.3"/><line x1="248.5" y1="328.4" x2="256.5" y2="322"/><line x1="248.5" y1="320.1" x2="256.5" y2="313.7"/><line x1="248.5" y1="311.8" x2="256.5" y2="305.4"/><line x1="248.5" y1="303.5" x2="256.5" y2="297.1"/><line x1="248.5" y1="295.2" x2="256.5" y2="288.8"/><line x1="248.5" y1="286.9" x2="256.5" y2="280.5"/><line x1="248.5" y1="278.6" x2="256.5" y2="272.2"/></g>
<rect x="249.5" y="276.5" width="6" height="95.3" fill="none" stroke="#242424" stroke-width="1"/>
<rect x="53.8" y="207.2" width="206" height="164.6" fill="none" stroke="#3a3a3a" stroke-width="1.2"/>
<line x1="53.8" y1="243.1" x2="59.4" y2="243.1" stroke="#3a3a3a" stroke-width="1"/>
<line x1="53.8" y1="276" x2="59.4" y2="276" stroke="#3a3a3a" stroke-width="1"/>
<line x1="53.8" y1="307.8" x2="59.4" y2="307.8" stroke="#3a3a3a" stroke-width="1"/>
<line x1="53.8" y1="343.3" x2="59.4" y2="343.3" stroke="#3a3a3a" stroke-width="1"/>
<line x1="61.7" y1="397.7" x2="257" y2="397.7" stroke="#262626" stroke-width="1.1"/>
<g fill="#222"><rect x="327" y="293.85" width="1.8" height="1.1"/><rect x="336.23" y="293.85" width="1.8" height="1.1"/><rect x="345.46" y="293.85" width="1.8" height="1.1"/><rect x="354.69" y="293.85" width="1.8" height="1.1"/><rect x="363.92" y="293.85" width="1.8" height="1.1"/><rect x="373.15" y="293.85" width="1.8" height="1.1"/><rect x="382.38" y="293.85" width="1.8" height="1.1"/><rect x="391.61" y="293.85" width="1.8" height="1.1"/><rect x="400.84" y="293.85" width="1.8" height="1.1"/><rect x="410.07" y="293.85" width="1.8" height="1.1"/><rect x="419.3" y="293.85" width="1.8" height="1.1"/><rect x="428.53" y="293.85" width="1.8" height="1.1"/><rect x="437.76" y="293.85" width="1.8" height="1.1"/><rect x="446.99" y="293.85" width="1.8" height="1.1"/><rect x="456.22" y="293.85" width="1.8" height="1.1"/><rect x="465.45" y="293.85" width="1.8" height="1.1"/><rect x="474.68" y="293.85" width="1.8" height="1.1"/><rect x="483.91" y="293.85" width="1.8" height="1.1"/><rect x="493.14" y="293.85" width="1.8" height="1.1"/><rect x="502.37" y="293.85" width="1.8" height="1.1"/><rect x="511.6" y="293.85" width="1.8" height="1.1"/></g>
<line x1="336.5" y1="288" x2="336.5" y2="286.5" stroke="#1a1a1a" stroke-width="1"/>
<line x1="334.7" y1="286.5" x2="338.3" y2="286.5" stroke="#1a1a1a" stroke-width="1.2"/>
<rect x="333" y="288" width="6" height="83.2" fill="#0a0a0a"/>
<line x1="347.5" y1="304" x2="347.5" y2="302.5" stroke="#1a1a1a" stroke-width="1"/>
<line x1="345.7" y1="302.5" x2="349.3" y2="302.5" stroke="#1a1a1a" stroke-width="1.2"/>
<rect x="344.5" y="304.5" width="6" height="66.7" fill="#d8d8d8" stroke="#242424" stroke-width="1"/>
<line x1="351.7" y1="278.7" x2="355.3" y2="278.7" stroke="#1a1a1a" stroke-width="1.2"/>
<rect x="350.5" y="279.5" width="6" height="91.7" fill="#fff" stroke="#242424" stroke-width="1"/>
<line x1="359.5" y1="282" x2="359.5" y2="279.5" stroke="#1a1a1a" stroke-width="1"/>
<line x1="357.7" y1="279.5" x2="361.3" y2="279.5" stroke="#1a1a1a" stroke-width="1.2"/>
<rect x="356.5" y="282.5" width="6" height="88.7" fill="#fff" stroke="#242424" stroke-width="1"/>
<g fill="#8c8c8c"><rect x="359.43" y="368.15" width="1.1" height="1.1"/><rect x="359.43" y="363.65" width="1.1" height="1.1"/><rect x="359.43" y="359.15" width="1.1" height="1.1"/><rect x="359.43" y="354.65" width="1.1" height="1.1"/><rect x="359.43" y="350.15" width="1.1" height="1.1"/><rect x="359.43" y="345.65" width="1.1" height="1.1"/><rect x="359.43" y="341.15" width="1.1" height="1.1"/><rect x="359.43" y="336.65" width="1.1" height="1.1"/><rect x="359.43" y="332.15" width="1.1" height="1.1"/><rect x="359.43" y="327.65" width="1.1" height="1.1"/><rect x="359.43" y="323.15" width="1.1" height="1.1"/><rect x="359.43" y="318.65" width="1.1" height="1.1"/><rect x="359.43" y="314.15" width="1.1" height="1.1"/><rect x="359.43" y="309.65" width="1.1" height="1.1"/><rect x="359.43" y="305.15" width="1.1" height="1.1"/><rect x="359.43" y="300.65" width="1.1" height="1.1"/><rect x="359.43" y="296.15" width="1.1" height="1.1"/><rect x="359.43" y="291.65" width="1.1" height="1.1"/><rect x="359.43" y="287.15" width="1.1" height="1.1"/></g>
<line x1="363.7" y1="283.7" x2="367.3" y2="283.7" stroke="#1a1a1a" stroke-width="1.2"/>
<rect x="362.5" y="284.5" width="6" height="86.7" fill="#fff" stroke="#242424" stroke-width="1"/>
<clipPath id="c258"><rect x="362.5" y="284.5" width="6" height="86.7"/></clipPath>
<g clip-path="url(#c258)" stroke="#1a1a1a" stroke-width="1.2"><line x1="361.5" y1="377.6" x2="369.5" y2="371.2"/><line x1="361.5" y1="369.3" x2="369.5" y2="362.9"/><line x1="361.5" y1="361" x2="369.5" y2="354.6"/><line x1="361.5" y1="352.7" x2="369.5" y2="346.3"/><line x1="361.5" y1="344.4" x2="369.5" y2="338"/><line x1="361.5" y1="336.1" x2="369.5" y2="329.7"/><line x1="361.5" y1="327.8" x2="369.5" y2="321.4"/><line x1="361.5" y1="319.5" x2="369.5" y2="313.1"/><line x1="361.5" y1="311.2" x2="369.5" y2="304.8"/><line x1="361.5" y1="302.9" x2="369.5" y2="296.5"/><line x1="361.5" y1="294.6" x2="369.5" y2="288.2"/><line x1="361.5" y1="286.3" x2="369.5" y2="279.9"/></g>
<rect x="362.5" y="284.5" width="6" height="86.7" fill="none" stroke="#242424" stroke-width="1"/>
<line x1="374.7" y1="326.7" x2="378.3" y2="326.7" stroke="#1a1a1a" stroke-width="1.2"/>
<rect x="373.5" y="327.5" width="6" height="43.7" fill="#d8d8d8" stroke="#242424" stroke-width="1"/>
<line x1="380.7" y1="262.7" x2="384.3" y2="262.7" stroke="#1a1a1a" stroke-width="1.2"/>
<rect x="379.5" y="263.5" width="6" height="107.7" fill="#fff" stroke="#242424" stroke-width="1"/>
<line x1="386.7" y1="263.7" x2="390.3" y2="263.7" stroke="#1a1a1a" stroke-width="1.2"/>
<rect x="385.5" y="264.5" width="6" height="106.7" fill="#fff" stroke="#242424" stroke-width="1"/>
<g fill="#8c8c8c"><rect x="388.43" y="368.15" width="1.1" height="1.1"/><rect x="388.43" y="363.65" width="1.1" height="1.1"/><rect x="388.43" y="359.15" width="1.1" height="1.1"/><rect x="388.43" y="354.65" width="1.1" height="1.1"/><rect x="388.43" y="350.15" width="1.1" height="1.1"/><rect x="388.43" y="345.65" width="1.1" height="1.1"/><rect x="388.43" y="341.15" width="1.1" height="1.1"/><rect x="388.43" y="336.65" width="1.1" height="1.1"/><rect x="388.43" y="332.15" width="1.1" height="1.1"/><rect x="388.43" y="327.65" width="1.1" height="1.1"/><rect x="388.43" y="323.15" width="1.1" height="1.1"/><rect x="388.43" y="318.65" width="1.1" height="1.1"/><rect x="388.43" y="314.15" width="1.1" height="1.1"/><rect x="388.43" y="309.65" width="1.1" height="1.1"/><rect x="388.43" y="305.15" width="1.1" height="1.1"/><rect x="388.43" y="300.65" width="1.1" height="1.1"/><rect x="388.43" y="296.15" width="1.1" height="1.1"/><rect x="388.43" y="291.65" width="1.1" height="1.1"/><rect x="388.43" y="287.15" width="1.1" height="1.1"/><rect x="388.43" y="282.65" width="1.1" height="1.1"/><rect x="388.43" y="278.15" width="1.1" height="1.1"/><rect x="388.43" y="273.65" width="1.1" height="1.1"/><rect x="388.43" y="269.15" width="1.1" height="1.1"/></g>
<line x1="394.5" y1="268" x2="394.5" y2="266.5" stroke="#1a1a1a" stroke-width="1"/>
<line x1="392.7" y1="266.5" x2="396.3" y2="266.5" stroke="#1a1a1a" stroke-width="1.2"/>
<rect x="391.5" y="268.5" width="6" height="102.7" fill="#fff" stroke="#242424" stroke-width="1"/>
<clipPath id="c271"><rect x="391.5" y="268.5" width="6" height="102.7"/></clipPath>
<g clip-path="url(#c271)" stroke="#1a1a1a" stroke-width="1.2"><line x1="390.5" y1="377.6" x2="398.5" y2="371.2"/><line x1="390.5" y1="369.3" x2="398.5" y2="362.9"/><line x1="390.5" y1="361" x2="398.5" y2="354.6"/><line x1="390.5" y1="352.7" x2="398.5" y2="346.3"/><line x1="390.5" y1="344.4" x2="398.5" y2="338"/><line x1="390.5" y1="336.1" x2="398.5" y2="329.7"/><line x1="390.5" y1="327.8" x2="398.5" y2="321.4"/><line x1="390.5" y1="319.5" x2="398.5" y2="313.1"/><line x1="390.5" y1="311.2" x2="398.5" y2="304.8"/><line x1="390.5" y1="302.9" x2="398.5" y2="296.5"/><line x1="390.5" y1="294.6" x2="398.5" y2="288.2"/><line x1="390.5" y1="286.3" x2="398.5" y2="279.9"/><line x1="390.5" y1="278" x2="398.5" y2="271.6"/><line x1="390.5" y1="269.7" x2="398.5" y2="263.3"/></g>
<rect x="391.5" y="268.5" width="6" height="102.7" fill="none" stroke="#242424" stroke-width="1"/>
<line x1="405.5" y1="274" x2="405.5" y2="269.5" stroke="#1a1a1a" stroke-width="1"/>
<line x1="403.7" y1="269.5" x2="407.3" y2="269.5" stroke="#1a1a1a" stroke-width="1.2"/>
<rect x="402.5" y="274.5" width="6" height="96.7" fill="#d8d8d8" stroke="#242424" stroke-width="1"/>
<line x1="411.5" y1="251" x2="411.5" y2="249.5" stroke="#1a1a1a" stroke-width="1"/>
<line x1="409.7" y1="249.5" x2="413.3" y2="249.5" stroke="#1a1a1a" stroke-width="1.2"/>
<rect x="408.5" y="251.5" width="6" height="119.7" fill="#fff" stroke="#242424" stroke-width="1"/>
<line x1="417.5" y1="249" x2="417.5" y2="245.5" stroke="#1a1a1a" stroke-width="1"/>
<line x1="415.7" y1="245.5" x2="419.3" y2="245.5" stroke="#1a1a1a" stroke-width="1.2"/>
<rect x="414.5" y="249.5" width="6" height="121.7" fill="#fff" stroke="#242424" stroke-width="1"/>
<g fill="#8c8c8c"><rect x="417.43" y="368.15" width="1.1" height="1.1"/><rect x="417.43" y="363.65" width="1.1" height="1.1"/><rect x="417.43" y="359.15" width="1.1" height="1.1"/><rect x="417.43" y="354.65" width="1.1" height="1.1"/><rect x="417.43" y="350.15" width="1.1" height="1.1"/><rect x="417.43" y="345.65" width="1.1" height="1.1"/><rect x="417.43" y="341.15" width="1.1" height="1.1"/><rect x="417.43" y="336.65" width="1.1" height="1.1"/><rect x="417.43" y="332.15" width="1.1" height="1.1"/><rect x="417.43" y="327.65" width="1.1" height="1.1"/><rect x="417.43" y="323.15" width="1.1" height="1.1"/><rect x="417.43" y="318.65" width="1.1" height="1.1"/><rect x="417.43" y="314.15" width="1.1" height="1.1"/><rect x="417.43" y="309.65" width="1.1" height="1.1"/><rect x="417.43" y="305.15" width="1.1" height="1.1"/><rect x="417.43" y="300.65" width="1.1" height="1.1"/><rect x="417.43" y="296.15" width="1.1" height="1.1"/><rect x="417.43" y="291.65" width="1.1" height="1.1"/><rect x="417.43" y="287.15" width="1.1" height="1.1"/><rect x="417.43" y="282.65" width="1.1" height="1.1"/><rect x="417.43" y="278.15" width="1.1" height="1.1"/><rect x="417.43" y="273.65" width="1.1" height="1.1"/><rect x="417.43" y="269.15" width="1.1" height="1.1"/><rect x="417.43" y="264.65" width="1.1" height="1.1"/><rect x="417.43" y="260.15" width="1.1" height="1.1"/><rect x="417.43" y="255.65" width="1.1" height="1.1"/><rect x="417.43" y="251.15" width="1.1" height="1.1"/></g>
<line x1="421.7" y1="240.7" x2="425.3" y2="240.7" stroke="#1a1a1a" stroke-width="1.2"/>
<rect x="420.5" y="241.5" width="6" height="129.7" fill="#fff" stroke="#242424" stroke-width="1"/>
<clipPath id="c286"><rect x="420.5" y="241.5" width="6" height="129.7"/></clipPath>
<g clip-path="url(#c286)" stroke="#1a1a1a" stroke-width="1.2"><line x1="419.5" y1="377.6" x2="427.5" y2="371.2"/><line x1="419.5" y1="369.3" x2="427.5" y2="362.9"/><line x1="419.5" y1="361" x2="427.5" y2="354.6"/><line x1="419.5" y1="352.7" x2="427.5" y2="346.3"/><line x1="419.5" y1="344.4" x2="427.5" y2="338"/><line x1="419.5" y1="336.1" x2="427.5" y2="329.7"/><line x1="419.5" y1="327.8" x2="427.5" y2="321.4"/><line x1="419.5" y1="319.5" x2="427.5" y2="313.1"/><line x1="419.5" y1="311.2" x2="427.5" y2="304.8"/><line x1="419.5" y1="302.9" x2="427.5" y2="296.5"/><line x1="419.5" y1="294.6" x2="427.5" y2="288.2"/><line x1="419.5" y1="286.3" x2="427.5" y2="279.9"/><line x1="419.5" y1="278" x2="427.5" y2="271.6"/><line x1="419.5" y1="269.7" x2="427.5" y2="263.3"/><line x1="419.5" y1="261.4" x2="427.5" y2="255"/><line x1="419.5" y1="253.1" x2="427.5" y2="246.7"/><line x1="419.5" y1="244.8" x2="427.5" y2="238.4"/></g>
<rect x="420.5" y="241.5" width="6" height="129.7" fill="none" stroke="#242424" stroke-width="1"/>
<line x1="434.5" y1="287" x2="434.5" y2="286.5" stroke="#1a1a1a" stroke-width="1"/>
<line x1="432.7" y1="286.5" x2="436.3" y2="286.5" stroke="#1a1a1a" stroke-width="1.2"/>
<rect x="432.5" y="287.5" width="5" height="83.7" fill="#d8d8d8" stroke="#242424" stroke-width="1"/>
<line x1="440.5" y1="248" x2="440.5" y2="247.5" stroke="#1a1a1a" stroke-width="1"/>
<line x1="438.7" y1="247.5" x2="442.3" y2="247.5" stroke="#1a1a1a" stroke-width="1.2"/>
<rect x="437.5" y="248.5" width="6" height="122.7" fill="#fff" stroke="#242424" stroke-width="1"/>
<line x1="444.7" y1="250.7" x2="448.3" y2="250.7" stroke="#1a1a1a" stroke-width="1.2"/>
<rect x="443.5" y="251.5" width="6" height="119.7" fill="#fff" stroke="#242424" stroke-width="1"/>
<g fill="#8c8c8c"><rect x="446.43" y="368.15" width="1.1" height="1.1"/><rect x="446.43" y="363.65" width="1.1" height="1.1"/><rect x="446.43" y="359.15" width="1.1" height="1.1"/><rect x="446.43" y="354.65" width="1.1" height="1.1"/><rect x="446.43" y="350.15" width="1.1" height="1.1"/><rect x="446.43" y="345.65" width="1.1" height="1.1"/><rect x="446.43" y="341.15" width="1.1" height="1.1"/><rect x="446.43" y="336.65" width="1.1" height="1.1"/><rect x="446.43" y="332.15" width="1.1" height="1.1"/><rect x="446.43" y="327.65" width="1.1" height="1.1"/><rect x="446.43" y="323.15" width="1.1" height="1.1"/><rect x="446.43" y="318.65" width="1.1" height="1.1"/><rect x="446.43" y="314.15" width="1.1" height="1.1"/><rect x="446.43" y="309.65" width="1.1" height="1.1"/><rect x="446.43" y="305.15" width="1.1" height="1.1"/><rect x="446.43" y="300.65" width="1.1" height="1.1"/><rect x="446.43" y="296.15" width="1.1" height="1.1"/><rect x="446.43" y="291.65" width="1.1" height="1.1"/><rect x="446.43" y="287.15" width="1.1" height="1.1"/><rect x="446.43" y="282.65" width="1.1" height="1.1"/><rect x="446.43" y="278.15" width="1.1" height="1.1"/><rect x="446.43" y="273.65" width="1.1" height="1.1"/><rect x="446.43" y="269.15" width="1.1" height="1.1"/><rect x="446.43" y="264.65" width="1.1" height="1.1"/><rect x="446.43" y="260.15" width="1.1" height="1.1"/><rect x="446.43" y="255.65" width="1.1" height="1.1"/></g>
<line x1="450.7" y1="240.7" x2="454.3" y2="240.7" stroke="#1a1a1a" stroke-width="1.2"/>
<rect x="449.5" y="241.5" width="6" height="129.7" fill="#fff" stroke="#242424" stroke-width="1"/>
<clipPath id="c300"><rect x="449.5" y="241.5" width="6" height="129.7"/></clipPath>
<g clip-path="url(#c300)" stroke="#1a1a1a" stroke-width="1.2"><line x1="448.5" y1="377.6" x2="456.5" y2="371.2"/><line x1="448.5" y1="369.3" x2="456.5" y2="362.9"/><line x1="448.5" y1="361" x2="456.5" y2="354.6"/><line x1="448.5" y1="352.7" x2="456.5" y2="346.3"/><line x1="448.5" y1="344.4" x2="456.5" y2="338"/><line x1="448.5" y1="336.1" x2="456.5" y2="329.7"/><line x1="448.5" y1="327.8" x2="456.5" y2="321.4"/><line x1="448.5" y1="319.5" x2="456.5" y2="313.1"/><line x1="448.5" y1="311.2" x2="456.5" y2="304.8"/><line x1="448.5" y1="302.9" x2="456.5" y2="296.5"/><line x1="448.5" y1="294.6" x2="456.5" y2="288.2"/><line x1="448.5" y1="286.3" x2="456.5" y2="279.9"/><line x1="448.5" y1="278" x2="456.5" y2="271.6"/><line x1="448.5" y1="269.7" x2="456.5" y2="263.3"/><line x1="448.5" y1="261.4" x2="456.5" y2="255"/><line x1="448.5" y1="253.1" x2="456.5" y2="246.7"/><line x1="448.5" y1="244.8" x2="456.5" y2="238.4"/></g>
<rect x="449.5" y="241.5" width="6" height="129.7" fill="none" stroke="#242424" stroke-width="1"/>
<line x1="463.5" y1="318" x2="463.5" y2="316.5" stroke="#1a1a1a" stroke-width="1"/>
<line x1="461.7" y1="316.5" x2="465.3" y2="316.5" stroke="#1a1a1a" stroke-width="1.2"/>
<rect x="460.5" y="318.5" width="6" height="52.7" fill="#d8d8d8" stroke="#242424" stroke-width="1"/>
<line x1="469.5" y1="254" x2="469.5" y2="253.5" stroke="#1a1a1a" stroke-width="1"/>
<line x1="467.7" y1="253.5" x2="471.3" y2="253.5" stroke="#1a1a1a" stroke-width="1.2"/>
<rect x="466.5" y="254.5" width="6" height="116.7" fill="#fff" stroke="#242424" stroke-width="1"/>
<line x1="473.7" y1="256.7" x2="477.3" y2="256.7" stroke="#1a1a1a" stroke-width="1.2"/>
<rect x="472.5" y="257.5" width="6" height="113.7" fill="#fff" stroke="#242424" stroke-width="1"/>
<g fill="#8c8c8c"><rect x="475.43" y="368.15" width="1.1" height="1.1"/><rect x="475.43" y="363.65" width="1.1" height="1.1"/><rect x="475.43" y="359.15" width="1.1" height="1.1"/><rect x="475.43" y="354.65" width="1.1" height="1.1"/><rect x="475.43" y="350.15" width="1.1" height="1.1"/><rect x="475.43" y="345.65" width="1.1" height="1.1"/><rect x="475.43" y="341.15" width="1.1" height="1.1"/><rect x="475.43" y="336.65" width="1.1" height="1.1"/><rect x="475.43" y="332.15" width="1.1" height="1.1"/><rect x="475.43" y="327.65" width="1.1" height="1.1"/><rect x="475.43" y="323.15" width="1.1" height="1.1"/><rect x="475.43" y="318.65" width="1.1" height="1.1"/><rect x="475.43" y="314.15" width="1.1" height="1.1"/><rect x="475.43" y="309.65" width="1.1" height="1.1"/><rect x="475.43" y="305.15" width="1.1" height="1.1"/><rect x="475.43" y="300.65" width="1.1" height="1.1"/><rect x="475.43" y="296.15" width="1.1" height="1.1"/><rect x="475.43" y="291.65" width="1.1" height="1.1"/><rect x="475.43" y="287.15" width="1.1" height="1.1"/><rect x="475.43" y="282.65" width="1.1" height="1.1"/><rect x="475.43" y="278.15" width="1.1" height="1.1"/><rect x="475.43" y="273.65" width="1.1" height="1.1"/><rect x="475.43" y="269.15" width="1.1" height="1.1"/><rect x="475.43" y="264.65" width="1.1" height="1.1"/><rect x="475.43" y="260.15" width="1.1" height="1.1"/></g>
<line x1="479.7" y1="245.7" x2="483.3" y2="245.7" stroke="#1a1a1a" stroke-width="1.2"/>
<rect x="478.5" y="246.5" width="6" height="124.7" fill="#fff" stroke="#242424" stroke-width="1"/>
<clipPath id="c314"><rect x="478.5" y="246.5" width="6" height="124.7"/></clipPath>
<g clip-path="url(#c314)" stroke="#1a1a1a" stroke-width="1.2"><line x1="477.5" y1="377.6" x2="485.5" y2="371.2"/><line x1="477.5" y1="369.3" x2="485.5" y2="362.9"/><line x1="477.5" y1="361" x2="485.5" y2="354.6"/><line x1="477.5" y1="352.7" x2="485.5" y2="346.3"/><line x1="477.5" y1="344.4" x2="485.5" y2="338"/><line x1="477.5" y1="336.1" x2="485.5" y2="329.7"/><line x1="477.5" y1="327.8" x2="485.5" y2="321.4"/><line x1="477.5" y1="319.5" x2="485.5" y2="313.1"/><line x1="477.5" y1="311.2" x2="485.5" y2="304.8"/><line x1="477.5" y1="302.9" x2="485.5" y2="296.5"/><line x1="477.5" y1="294.6" x2="485.5" y2="288.2"/><line x1="477.5" y1="286.3" x2="485.5" y2="279.9"/><line x1="477.5" y1="278" x2="485.5" y2="271.6"/><line x1="477.5" y1="269.7" x2="485.5" y2="263.3"/><line x1="477.5" y1="261.4" x2="485.5" y2="255"/><line x1="477.5" y1="253.1" x2="485.5" y2="246.7"/></g>
<rect x="478.5" y="246.5" width="6" height="124.7" fill="none" stroke="#242424" stroke-width="1"/>
<line x1="492.5" y1="316" x2="492.5" y2="315.5" stroke="#1a1a1a" stroke-width="1"/>
<line x1="490.7" y1="315.5" x2="494.3" y2="315.5" stroke="#1a1a1a" stroke-width="1.2"/>
<rect x="489.5" y="316.5" width="6" height="54.7" fill="#d8d8d8" stroke="#242424" stroke-width="1"/>
<line x1="496.7" y1="261.7" x2="500.3" y2="261.7" stroke="#1a1a1a" stroke-width="1.2"/>
<rect x="495.5" y="262.5" width="6" height="108.7" fill="#fff" stroke="#242424" stroke-width="1"/>
<line x1="504.5" y1="268" x2="504.5" y2="267.5" stroke="#1a1a1a" stroke-width="1"/>
<line x1="502.7" y1="267.5" x2="506.3" y2="267.5" stroke="#1a1a1a" stroke-width="1.2"/>
<rect x="501.5" y="268.5" width="6" height="102.7" fill="#fff" stroke="#242424" stroke-width="1"/>
<g fill="#8c8c8c"><rect x="504.43" y="368.15" width="1.1" height="1.1"/><rect x="504.43" y="363.65" width="1.1" height="1.1"/><rect x="504.43" y="359.15" width="1.1" height="1.1"/><rect x="504.43" y="354.65" width="1.1" height="1.1"/><rect x="504.43" y="350.15" width="1.1" height="1.1"/><rect x="504.43" y="345.65" width="1.1" height="1.1"/><rect x="504.43" y="341.15" width="1.1" height="1.1"/><rect x="504.43" y="336.65" width="1.1" height="1.1"/><rect x="504.43" y="332.15" width="1.1" height="1.1"/><rect x="504.43" y="327.65" width="1.1" height="1.1"/><rect x="504.43" y="323.15" width="1.1" height="1.1"/><rect x="504.43" y="318.65" width="1.1" height="1.1"/><rect x="504.43" y="314.15" width="1.1" height="1.1"/><rect x="504.43" y="309.65" width="1.1" height="1.1"/><rect x="504.43" y="305.15" width="1.1" height="1.1"/><rect x="504.43" y="300.65" width="1.1" height="1.1"/><rect x="504.43" y="296.15" width="1.1" height="1.1"/><rect x="504.43" y="291.65" width="1.1" height="1.1"/><rect x="504.43" y="287.15" width="1.1" height="1.1"/><rect x="504.43" y="282.65" width="1.1" height="1.1"/><rect x="504.43" y="278.15" width="1.1" height="1.1"/><rect x="504.43" y="273.65" width="1.1" height="1.1"/></g>
<line x1="510.5" y1="253" x2="510.5" y2="251.5" stroke="#1a1a1a" stroke-width="1"/>
<line x1="508.7" y1="251.5" x2="512.3" y2="251.5" stroke="#1a1a1a" stroke-width="1.2"/>
<rect x="507.5" y="253.5" width="6" height="117.7" fill="#fff" stroke="#242424" stroke-width="1"/>
<clipPath id="c329"><rect x="507.5" y="253.5" width="6" height="117.7"/></clipPath>
<g clip-path="url(#c329)" stroke="#1a1a1a" stroke-width="1.2"><line x1="506.5" y1="377.6" x2="514.5" y2="371.2"/><line x1="506.5" y1="369.3" x2="514.5" y2="362.9"/><line x1="506.5" y1="361" x2="514.5" y2="354.6"/><line x1="506.5" y1="352.7" x2="514.5" y2="346.3"/><line x1="506.5" y1="344.4" x2="514.5" y2="338"/><line x1="506.5" y1="336.1" x2="514.5" y2="329.7"/><line x1="506.5" y1="327.8" x2="514.5" y2="321.4"/><line x1="506.5" y1="319.5" x2="514.5" y2="313.1"/><line x1="506.5" y1="311.2" x2="514.5" y2="304.8"/><line x1="506.5" y1="302.9" x2="514.5" y2="296.5"/><line x1="506.5" y1="294.6" x2="514.5" y2="288.2"/><line x1="506.5" y1="286.3" x2="514.5" y2="279.9"/><line x1="506.5" y1="278" x2="514.5" y2="271.6"/><line x1="506.5" y1="269.7" x2="514.5" y2="263.3"/><line x1="506.5" y1="261.4" x2="514.5" y2="255"/><line x1="506.5" y1="253.1" x2="514.5" y2="246.7"/></g>
<rect x="507.5" y="253.5" width="6" height="117.7" fill="none" stroke="#242424" stroke-width="1"/>
<rect x="326.4" y="207" width="190.1" height="164.2" fill="none" stroke="#3a3a3a" stroke-width="1.2"/>
<line x1="326.4" y1="244.4" x2="331.6" y2="244.4" stroke="#3a3a3a" stroke-width="1"/>
<line x1="326.4" y1="281.2" x2="331.6" y2="281.2" stroke="#3a3a3a" stroke-width="1"/>
<line x1="326.4" y1="315.4" x2="331.6" y2="315.4" stroke="#3a3a3a" stroke-width="1"/>
<line x1="326.4" y1="350" x2="331.6" y2="350" stroke="#3a3a3a" stroke-width="1"/>
<line x1="333.1" y1="398.4" x2="508.8" y2="398.4" stroke="#262626" stroke-width="1.1"/>
<rect x="44.5" y="435.8" width="458" height="20.3" fill="none" stroke="#3a3a3a" stroke-width="1.1"/>
<rect x="49.2" y="442.4" width="13.3" height="7.4" fill="#0a0a0a"/>
<rect x="159.3" y="442.9" width="13.6" height="7" fill="#d8d8d8" stroke="#1e1e1e" stroke-width="1"/>
<rect x="233" y="442.9" width="13.2" height="7" fill="#fff" stroke="#1e1e1e" stroke-width="1"/>
<rect x="326.6" y="442.5" width="13" height="7.3" fill="#fff" stroke="#1e1e1e" stroke-width="1"/>
<g fill="#888"><rect x="330.95" y="443.35" width="1.1" height="1.1"/><rect x="334.75" y="443.35" width="1.1" height="1.1"/><rect x="328.65" y="446.75" width="1.1" height="1.1"/><rect x="332.75" y="446.75" width="1.1" height="1.1"/><rect x="336.75" y="446.75" width="1.1" height="1.1"/></g>
<rect x="436.8" y="442.5" width="12.8" height="7.3" fill="#fff" stroke="#1e1e1e" stroke-width="1"/>
<line x1="438.7" y1="449.4" x2="446" y2="442.8" stroke="#1a1a1a" stroke-width="1"/>
<line x1="447.6" y1="449.6" x2="449.6" y2="447.6" stroke="#1a1a1a" stroke-width="1"/>
<text transform="translate(34.250 11.800) scale(1.2251 1)" x="0" y="0" font-size="10.800" font-weight="bold" style="letter-spacing:0.163px;word-spacing:0.000px">20</text>
<text transform="translate(34.050 51.000) scale(1.2232 1)" x="0" y="0" font-size="10.800" font-weight="bold" style="letter-spacing:0.123px;word-spacing:0.000px">15</text>
<text transform="translate(33.850 92.000) scale(1.2672 1)" x="0" y="0" font-size="10.800" font-weight="bold" style="letter-spacing:0.316px;word-spacing:0.000px">10</text>
<text transform="translate(38.450 132.300) scale(1.1088 1)" x="0" y="0" font-size="10.800" font-weight="bold" style="letter-spacing:0.045px;word-spacing:0.000px">5</text>
<text transform="translate(38.450 169.600) scale(1.2100 1)" x="0" y="0" font-size="10.800" font-weight="bold" style="letter-spacing:-0.124px;word-spacing:0.000px">0</text>
<text transform="translate(62.600 26.000) scale(0.8929 1)" x="0" y="0" font-size="21.500" font-weight="bold" style="letter-spacing:0.056px;word-spacing:0.000px;stroke-width:0.90px">A</text>
<text transform="translate(129.350 18.300) scale(1.0000 1)" x="0" y="0" font-size="9.300" font-weight="bold" style="letter-spacing:0.500px;word-spacing:1.863px;stroke-width:0.20px">3 day ex vivo expansion</text>
<text transform="translate(76.050 179.800) scale(1.1440 1)" x="0" y="0" font-size="9.000" font-weight="bold" style="letter-spacing:-0.044px;word-spacing:0.000px">5</text>
<text transform="translate(117.050 179.800) scale(1.0120 1)" x="0" y="0" font-size="9.000" font-weight="bold" style="letter-spacing:0.099px;word-spacing:0.000px">7</text>
<text transform="translate(170.950 179.800) scale(1.1220 1)" x="0" y="0" font-size="9.000" font-weight="bold" style="letter-spacing:-0.134px;word-spacing:0.000px">9</text>
<text transform="translate(220.100 179.800) scale(1.0831 1)" x="0" y="0" font-size="9.000" font-weight="bold" style="letter-spacing:-0.138px;word-spacing:0.000px">11</text>
<text transform="translate(115.800 193.300) scale(1.0200 1)" x="0" y="0" font-size="9.800" font-weight="bold" style="letter-spacing:0.500px;word-spacing:2.490px">Days post-FU</text>
<text transform="translate(9.900 168.500) rotate(-90) scale(1 1.1200)" x="0" y="0" font-size="10.100" font-weight="bold" style="letter-spacing:0.400px;word-spacing:0.538px">Total number of cells generated</text>
<text transform="translate(21.800 145.400) rotate(-90) scale(1 1.1200)" x="0" y="0" font-size="10.100" font-weight="bold" style="letter-spacing:0.400px;word-spacing:-0.217px">per femoral BM (x10</text>
<text transform="translate(16.900 39.250) rotate(-90) scale(1 1.1200)" x="0" y="0" font-size="7.200" font-weight="bold" style="letter-spacing:2.400px;word-spacing:0.000px">-6</text>
<text transform="translate(21.800 28.750) rotate(-90) scale(1 1.1200)" x="0" y="0" font-size="10.100" font-weight="bold" style="letter-spacing:-0.050px;word-spacing:0.000px">)</text>
<text transform="translate(300.800 13.100) scale(1.1088 1)" x="0" y="0" font-size="10.800" font-weight="bold" style="letter-spacing:0.090px;word-spacing:0.000px">10</text>
<text transform="translate(315.750 6.500) scale(1.4178 1)" x="0" y="0" font-size="8.200" font-weight="bold" style="letter-spacing:-0.141px;word-spacing:0.000px">7</text>
<text transform="translate(300.800 43.800) scale(1.1088 1)" x="0" y="0" font-size="10.800" font-weight="bold" style="letter-spacing:0.090px;word-spacing:0.000px">10</text>
<text transform="translate(315.750 37.900) scale(1.4178 1)" x="0" y="0" font-size="8.200" font-weight="bold" style="letter-spacing:-0.141px;word-spacing:0.000px">6</text>
<text transform="translate(300.800 80.600) scale(1.1088 1)" x="0" y="0" font-size="10.800" font-weight="bold" style="letter-spacing:0.090px;word-spacing:0.000px">10</text>
<text transform="translate(315.750 74.400) scale(1.3432 1)" x="0" y="0" font-size="8.200" font-weight="bold" style="letter-spacing:0.037px;word-spacing:0.000px">5</text>
<text transform="translate(300.800 116.500) scale(1.1088 1)" x="0" y="0" font-size="10.800" font-weight="bold" style="letter-spacing:0.090px;word-spacing:0.000px">10</text>
<text transform="translate(316.000 110.300) scale(1.2760 1)" x="0" y="0" font-size="8.200" font-weight="bold" style="letter-spacing:-0.157px;word-spacing:0.000px">4</text>
<text transform="translate(300.800 153.100) scale(1.1088 1)" x="0" y="0" font-size="10.800" font-weight="bold" style="letter-spacing:0.090px;word-spacing:0.000px">10</text>
<text transform="translate(316.000 147.000) scale(1.3432 1)" x="0" y="0" font-size="8.200" font-weight="bold" style="letter-spacing:-0.149px;word-spacing:0.000px">3</text>
<text transform="translate(333.450 25.500) scale(0.9247 1)" x="0" y="0" font-size="20.600" font-weight="bold" style="letter-spacing:-0.108px;word-spacing:0.000px;stroke-width:0.90px">B</text>
<text transform="translate(385.650 18.300) scale(1.0000 1)" x="0" y="0" font-size="9.300" font-weight="bold" style="letter-spacing:0.500px;word-spacing:2.013px;stroke-width:0.20px">3 day ex vivo expansion</text>
<text transform="translate(349.550 175.800) scale(1.1440 1)" x="0" y="0" font-size="9.000" font-weight="bold" style="letter-spacing:-0.044px;word-spacing:0.000px">5</text>
<text transform="translate(383.250 175.800) scale(1.0560 1)" x="0" y="0" font-size="9.000" font-weight="bold" style="letter-spacing:0.047px;word-spacing:0.000px">7</text>
<text transform="translate(432.850 175.800) scale(1.1440 1)" x="0" y="0" font-size="9.000" font-weight="bold" style="letter-spacing:-0.044px;word-spacing:0.000px">9</text>
<text transform="translate(480.700 175.800) scale(1.1282 1)" x="0" y="0" font-size="9.000" font-weight="bold" style="letter-spacing:0.000px;word-spacing:0.000px">11</text>
<text transform="translate(379.700 192.900) scale(1.0200 1)" x="0" y="0" font-size="9.800" font-weight="bold" style="letter-spacing:0.500px;word-spacing:1.706px">Days post-FU</text>
<text transform="translate(281.800 151.800) rotate(-90) scale(1 1.1200)" x="0" y="0" font-size="10.100" font-weight="bold" style="letter-spacing:0.400px;word-spacing:1.233px">Total number of CFU-GMs</text>
<text transform="translate(294.200 151.650) rotate(-90) scale(1 1.1200)" x="0" y="0" font-size="10.100" font-weight="bold" style="letter-spacing:0.400px;word-spacing:1.050px">generated per femoral BM</text>
<text transform="translate(34.750 212.400) scale(1.1475 1)" x="0" y="0" font-size="10.800" font-weight="bold" style="letter-spacing:0.044px;word-spacing:0.000px">25</text>
<text transform="translate(34.750 246.800) scale(1.2078 1)" x="0" y="0" font-size="10.800" font-weight="bold" style="letter-spacing:0.000px;word-spacing:0.000px">20</text>
<text transform="translate(34.050 279.300) scale(1.2232 1)" x="0" y="0" font-size="10.800" font-weight="bold" style="letter-spacing:0.123px;word-spacing:0.000px">15</text>
<text transform="translate(33.850 311.600) scale(1.2408 1)" x="0" y="0" font-size="10.800" font-weight="bold" style="letter-spacing:0.282px;word-spacing:0.000px">10</text>
<text transform="translate(38.450 345.500) scale(1.1088 1)" x="0" y="0" font-size="10.800" font-weight="bold" style="letter-spacing:0.045px;word-spacing:0.000px">5</text>
<text transform="translate(38.450 372.900) scale(1.2100 1)" x="0" y="0" font-size="10.800" font-weight="bold" style="letter-spacing:-0.124px;word-spacing:0.000px">0</text>
<text transform="translate(61.500 229.200) scale(1.0018 1)" x="0" y="0" font-size="21.000" font-weight="bold" style="letter-spacing:0.050px;word-spacing:0.000px;stroke-width:0.90px">C</text>
<text transform="translate(135.050 220.700) scale(1.0000 1)" x="0" y="0" font-size="9.300" font-weight="bold" style="letter-spacing:0.500px;word-spacing:2.387px;stroke-width:0.20px">9 day 5-FU treated BM</text>
<text transform="translate(61.450 389.200) scale(1.0400 1)" x="0" y="0" font-size="9.900" font-weight="bold" style="letter-spacing:-0.048px;word-spacing:0.000px">0</text>
<text transform="translate(82.650 389.200) scale(0.7600 1)" x="0" y="0" font-size="9.900" font-weight="bold" style="letter-spacing:0.066px;word-spacing:0.000px">1</text>
<text transform="translate(113.950 389.200) scale(1.1600 1)" x="0" y="0" font-size="9.900" font-weight="bold" style="letter-spacing:0.043px;word-spacing:0.000px">2</text>
<text transform="translate(144.400 389.200) scale(0.9948 1)" x="0" y="0" font-size="9.900" font-weight="bold" style="letter-spacing:-0.050px;word-spacing:0.000px">3</text>
<text transform="translate(177.200 389.200) scale(0.9328 1)" x="0" y="0" font-size="9.900" font-weight="bold" style="letter-spacing:0.054px;word-spacing:0.000px">4</text>
<text transform="translate(209.350 389.200) scale(1.0139 1)" x="0" y="0" font-size="9.900" font-weight="bold" style="letter-spacing:0.049px;word-spacing:0.000px">5</text>
<text transform="translate(239.350 389.200) scale(1.0600 1)" x="0" y="0" font-size="9.900" font-weight="bold" style="letter-spacing:0.047px;word-spacing:0.000px">6</text>
<text transform="translate(84.900 412.400) scale(1.0200 1)" x="0" y="0" font-size="10.200" font-weight="bold" style="letter-spacing:0.500px;word-spacing:3.078px">Days of ex vivo expansion</text>
<text transform="translate(9.800 367.300) rotate(-90) scale(1 1.1200)" x="0" y="0" font-size="10.100" font-weight="bold" style="letter-spacing:0.400px;word-spacing:0.562px">Total number of cells generated</text>
<text transform="translate(22.200 344.500) rotate(-90) scale(1 1.1200)" x="0" y="0" font-size="10.100" font-weight="bold" style="letter-spacing:0.400px;word-spacing:-0.183px">per femoral BM (x10</text>
<text transform="translate(17.400 238.250) rotate(-90) scale(1 1.1200)" x="0" y="0" font-size="7.200" font-weight="bold" style="letter-spacing:2.400px;word-spacing:0.000px">-6</text>
<text transform="translate(22.200 227.950) rotate(-90) scale(1 1.1200)" x="0" y="0" font-size="10.100" font-weight="bold" style="letter-spacing:0.150px;word-spacing:0.000px">)</text>
<text transform="translate(300.750 216.000) scale(1.2144 1)" x="0" y="0" font-size="10.800" font-weight="bold" style="letter-spacing:0.247px;word-spacing:0.000px">10</text>
<text transform="translate(316.150 210.500) scale(1.4422 1)" x="0" y="0" font-size="8.200" font-weight="bold" style="letter-spacing:-0.069px;word-spacing:0.000px">7</text>
<text transform="translate(300.750 246.800) scale(1.2144 1)" x="0" y="0" font-size="10.800" font-weight="bold" style="letter-spacing:0.247px;word-spacing:0.000px">10</text>
<text transform="translate(316.150 241.200) scale(1.4422 1)" x="0" y="0" font-size="8.200" font-weight="bold" style="letter-spacing:-0.069px;word-spacing:0.000px">6</text>
<text transform="translate(300.750 284.500) scale(1.2144 1)" x="0" y="0" font-size="10.800" font-weight="bold" style="letter-spacing:0.247px;word-spacing:0.000px">10</text>
<text transform="translate(316.150 278.300) scale(1.3663 1)" x="0" y="0" font-size="8.200" font-weight="bold" style="letter-spacing:0.110px;word-spacing:0.000px">5</text>
<text transform="translate(300.750 319.900) scale(1.2144 1)" x="0" y="0" font-size="10.800" font-weight="bold" style="letter-spacing:0.247px;word-spacing:0.000px">10</text>
<text transform="translate(316.400 313.900) scale(1.2980 1)" x="0" y="0" font-size="8.200" font-weight="bold" style="letter-spacing:-0.077px;word-spacing:0.000px">4</text>
<text transform="translate(300.750 355.800) scale(1.2144 1)" x="0" y="0" font-size="10.800" font-weight="bold" style="letter-spacing:0.247px;word-spacing:0.000px">10</text>
<text transform="translate(316.400 350.000) scale(1.3663 1)" x="0" y="0" font-size="8.200" font-weight="bold" style="letter-spacing:-0.073px;word-spacing:0.000px">3</text>
<text transform="translate(331.900 228.500) scale(1.0112 1)" x="0" y="0" font-size="19.600" font-weight="bold" style="letter-spacing:0.099px;word-spacing:0.000px;stroke-width:0.90px">D</text>
<text transform="translate(396.550 220.600) scale(1.0000 1)" x="0" y="0" font-size="9.300" font-weight="bold" style="letter-spacing:0.500px;word-spacing:2.437px;stroke-width:0.20px">9 day 5-FU treated BM</text>
<text transform="translate(332.850 389.000) scale(1.1200 1)" x="0" y="0" font-size="9.900" font-weight="bold" style="letter-spacing:0.089px;word-spacing:0.000px">0</text>
<text transform="translate(356.000 389.000) scale(0.8600 1)" x="0" y="0" font-size="9.900" font-weight="bold" style="letter-spacing:0.349px;word-spacing:0.000px">1</text>
<text transform="translate(385.150 389.000) scale(1.1600 1)" x="0" y="0" font-size="9.900" font-weight="bold" style="letter-spacing:0.043px;word-spacing:0.000px">2</text>
<text transform="translate(415.800 389.000) scale(1.0330 1)" x="0" y="0" font-size="9.900" font-weight="bold" style="letter-spacing:-0.097px;word-spacing:0.000px">3</text>
<text transform="translate(440.800 389.000) scale(1.0032 1)" x="0" y="0" font-size="9.900" font-weight="bold" style="letter-spacing:0.199px;word-spacing:0.000px">4</text>
<text transform="translate(468.450 389.000) scale(1.0904 1)" x="0" y="0" font-size="9.900" font-weight="bold" style="letter-spacing:0.183px;word-spacing:0.000px">5</text>
<text transform="translate(496.050 389.000) scale(1.1600 1)" x="0" y="0" font-size="9.900" font-weight="bold" style="letter-spacing:0.043px;word-spacing:0.000px">6</text>
<text transform="translate(343.500 412.600) scale(1.0200 1)" x="0" y="0" font-size="10.200" font-weight="bold" style="letter-spacing:0.500px;word-spacing:3.103px">Days of ex vivo expansion</text>
<text transform="translate(282.000 354.200) rotate(-90) scale(1 1.1200)" x="0" y="0" font-size="10.100" font-weight="bold" style="letter-spacing:0.400px;word-spacing:0.600px">Total number of CFU-GMs</text>
<text transform="translate(294.200 354.450) rotate(-90) scale(1 1.1200)" x="0" y="0" font-size="10.100" font-weight="bold" style="letter-spacing:0.400px;word-spacing:0.550px">generated per femoral BM</text>
<text transform="translate(65.500 448.500) scale(1.1000 1)" x="0" y="0" font-size="8.400" font-weight="bold" style="letter-spacing:0.000px;word-spacing:1.477px;stroke-width:0.10px">No incubated BM</text>
<text transform="translate(178.500 448.500) scale(1.1000 1)" x="0" y="0" font-size="8.400" font-weight="bold" style="letter-spacing:0.000px;word-spacing:0.682px;stroke-width:0.10px">No HGFs</text>
<text transform="translate(253.200 448.500) scale(1.1000 1)" x="0" y="0" font-size="8.400" font-weight="bold" style="letter-spacing:0.591px;word-spacing:0.000px;stroke-width:0.10px">IL3+IL6+SCF</text>
<text transform="translate(343.800 448.500) scale(1.1000 1)" x="0" y="0" font-size="8.400" font-weight="bold" style="letter-spacing:0.620px;word-spacing:0.000px;stroke-width:0.10px">IL1+IL3+IL6+SCF</text>
<text transform="translate(456.500 448.500) scale(1.1000 1)" x="0" y="0" font-size="8.400" font-weight="bold" style="letter-spacing:0.371px;word-spacing:0.000px;stroke-width:0.10px">IL1+SCF</text>
</svg>
</body></html>
